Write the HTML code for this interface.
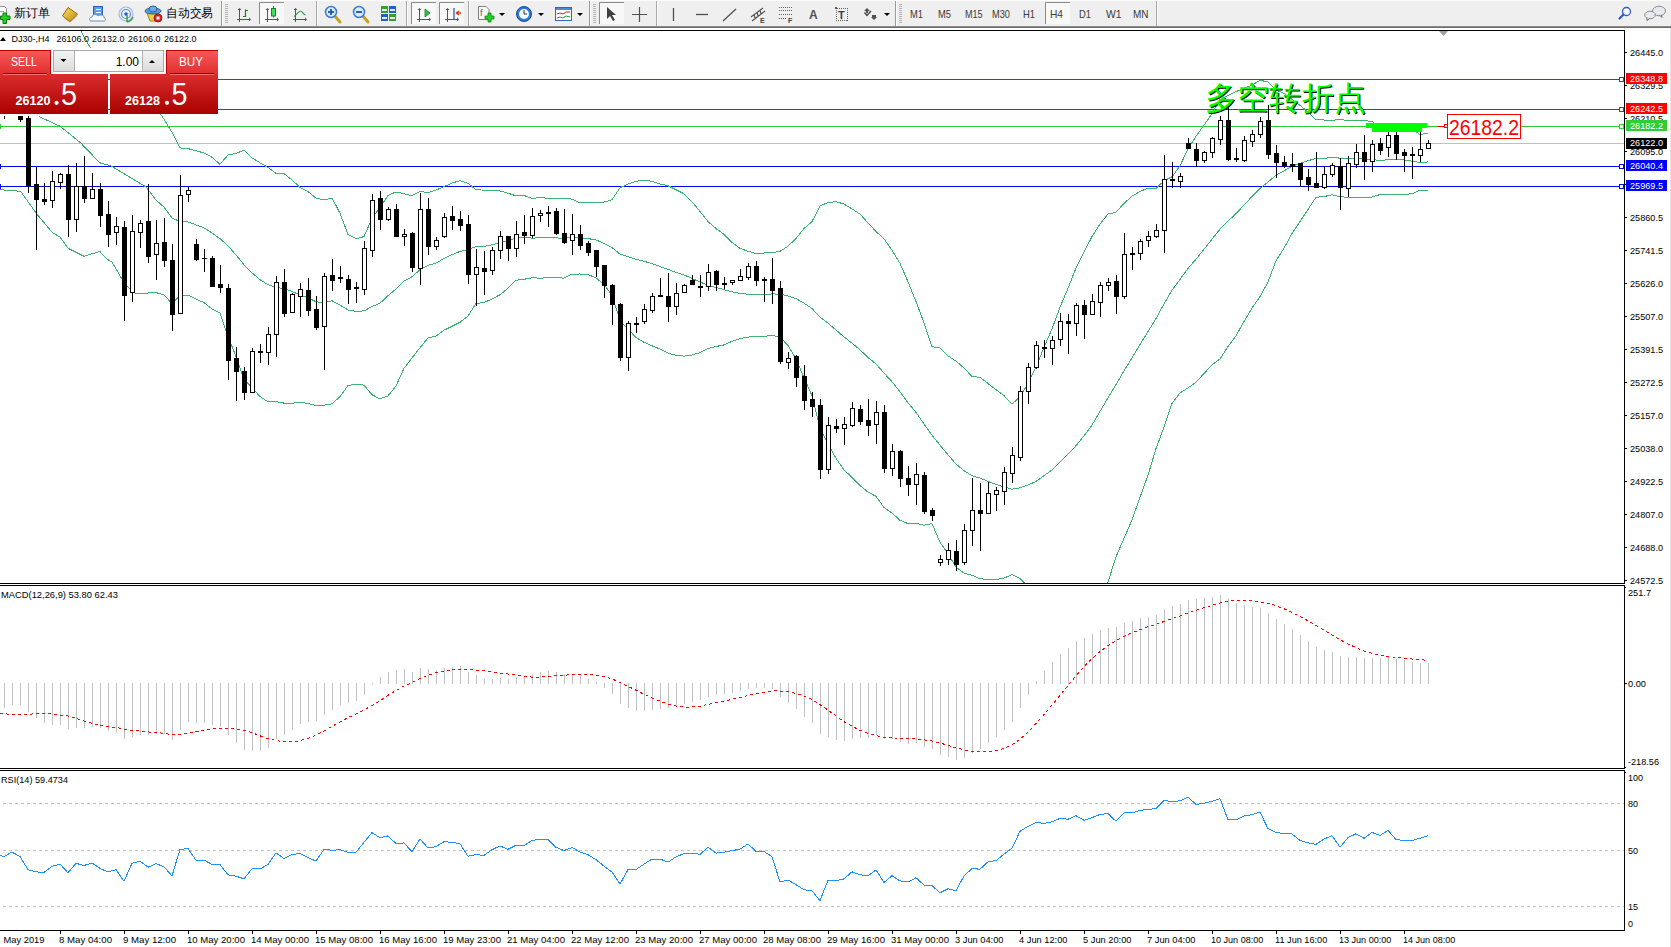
<!DOCTYPE html><html><head><meta charset="utf-8"><style>html,body{margin:0;padding:0;width:1671px;height:947px;overflow:hidden;background:#fff;font-family:"Liberation Sans",sans-serif}</style></head><body><svg width="1671" height="947" viewBox="0 0 1671 947" style="position:absolute;left:0;top:0" font-family="Liberation Sans, sans-serif">
<rect x="0" y="0" width="1671" height="947" fill="#ffffff"/>
<defs><clipPath id="cm"><rect x="0" y="31" width="1624" height="552"/></clipPath><clipPath id="cmacd"><rect x="0" y="586" width="1624" height="182"/></clipPath><clipPath id="crsi"><rect x="0" y="771" width="1624" height="159"/></clipPath></defs>
<g clip-path="url(#cm)">
<rect x="0" y="79" width="1624" height="1" fill="#ff0000"/>
<rect x="0" y="109" width="1624" height="1" fill="#ff0000"/>
<rect x="0" y="126" width="1437" height="1" fill="#32cd32"/>
<rect x="1437" y="126" width="10" height="1" fill="#ff0000"/>
<rect x="1521" y="126" width="103" height="1" fill="#32cd32"/>
<rect x="0" y="143" width="1624" height="1" fill="#c0c0c0"/>
<rect x="0" y="166" width="1624" height="1" fill="#0000ff"/>
<rect x="0" y="186" width="1624" height="1" fill="#0000ff"/>
<path d="M81.0,31.5 L90.5,48.1 L120.0,85.5 L156.0,107.4 L164.0,119.2 L172.0,132.3 L180.0,147.9 L188.0,148.6 L196.0,150.7 L204.0,153.0 L212.0,157.2 L220.0,164.3 L228.0,155.1 L236.0,153.3 L244.0,150.3 L252.0,157.8 L260.0,162.8 L268.0,167.5 L276.0,173.3 L284.0,173.7 L292.0,179.8 L300.0,187.6 L308.0,191.6 L316.0,198.1 L324.0,199.9 L332.0,197.9 L340.0,213.3 L348.0,234.4 L356.0,238.7 L364.0,236.6 L372.0,218.5 L380.0,207.4 L388.0,195.4 L396.0,191.9 L404.0,193.7 L412.0,195.7 L420.0,191.5 L428.0,192.5 L436.0,190.1 L444.0,186.6 L452.0,183.1 L460.0,180.6 L468.0,183.2 L476.0,189.8 L484.0,190.1 L492.0,190.8 L500.0,190.9 L508.0,193.2 L516.0,195.8 L524.0,195.4 L532.0,198.5 L540.0,197.5 L548.0,198.3 L556.0,198.0 L564.0,198.5 L572.0,199.1 L580.0,202.8 L588.0,202.7 L596.0,202.1 L604.0,202.1 L612.0,199.7 L620.0,187.7 L628.0,184.0 L636.0,181.3 L644.0,180.3 L652.0,181.3 L660.0,184.0 L668.0,185.7 L676.0,189.7 L684.0,193.8 L692.0,201.7 L700.0,211.4 L708.0,221.5 L716.0,228.6 L724.0,234.3 L732.0,242.5 L740.0,248.3 L748.0,251.3 L756.0,253.5 L764.0,253.0 L772.0,252.5 L780.0,251.4 L788.0,246.2 L796.0,238.5 L804.0,228.5 L812.0,221.6 L820.0,205.9 L828.0,202.5 L836.0,201.7 L844.0,204.0 L852.0,208.9 L860.0,214.1 L868.0,222.9 L876.0,231.5 L884.0,238.8 L892.0,250.3 L900.0,263.3 L908.0,281.7 L916.0,301.5 L924.0,322.7 L932.0,346.7 L940.0,348.0 L948.0,355.9 L956.0,361.1 L964.0,368.1 L972.0,376.4 L980.0,377.3 L988.0,383.5 L996.0,389.5 L1004.0,395.7 L1012.0,403.9 L1020.0,397.0 L1028.0,383.4 L1036.0,367.0 L1044.0,347.2 L1052.0,329.0 L1060.0,307.2 L1068.0,288.3 L1076.0,268.0 L1084.0,252.2 L1092.0,236.5 L1100.0,224.1 L1108.0,214.0 L1116.0,212.3 L1124.0,203.3 L1132.0,196.2 L1140.0,191.6 L1148.0,188.0 L1156.0,188.6 L1164.0,180.8 L1172.0,176.8 L1180.0,165.9 L1188.0,148.9 L1196.0,136.2 L1204.0,125.2 L1212.0,113.6 L1220.0,99.4 L1228.0,95.4 L1236.0,91.6 L1244.0,88.3 L1252.0,85.1 L1260.0,80.2 L1268.0,82.0 L1276.0,89.9 L1284.0,93.5 L1292.0,99.3 L1300.0,105.3 L1308.0,112.0 L1316.0,119.7 L1324.0,120.0 L1332.0,120.4 L1340.0,119.5 L1348.0,120.5 L1356.0,120.1 L1364.0,120.6 L1372.0,121.5 L1380.0,127.1 L1388.0,124.2 L1396.0,123.8 L1404.0,125.5 L1412.0,128.4 L1420.0,134.6 L1428.0,133.1" fill="none" stroke="#3cb371" stroke-width="1" shape-rendering="crispEdges"/>
<path d="M38.8,116.5 L60.2,126.3 L80.8,143.0 L99.8,162.8 L110.9,165.9 L146.0,186.9 L156.0,200.0 L164.0,207.1 L172.0,217.9 L180.0,221.7 L188.0,221.9 L196.0,224.9 L204.0,227.8 L212.0,233.0 L220.0,238.7 L228.0,245.7 L236.0,255.0 L244.0,264.7 L252.0,272.8 L260.0,279.7 L268.0,284.7 L276.0,287.5 L284.0,288.4 L292.0,291.5 L300.0,294.9 L308.0,297.6 L316.0,301.8 L324.0,302.6 L332.0,300.8 L340.0,305.0 L348.0,310.0 L356.0,311.4 L364.0,310.9 L372.0,306.6 L380.0,303.2 L388.0,295.7 L396.0,288.9 L404.0,281.0 L412.0,276.8 L420.0,269.6 L428.0,265.3 L436.0,263.2 L444.0,258.4 L452.0,254.7 L460.0,251.4 L468.0,249.6 L476.0,246.6 L484.0,246.4 L492.0,244.9 L500.0,242.8 L508.0,240.8 L516.0,238.0 L524.0,237.3 L532.0,238.1 L540.0,237.8 L548.0,238.0 L556.0,237.9 L564.0,238.3 L572.0,236.6 L580.0,238.4 L588.0,238.6 L596.0,239.9 L604.0,243.3 L612.0,247.5 L620.0,254.1 L628.0,256.6 L636.0,259.3 L644.0,261.3 L652.0,263.6 L660.0,266.5 L668.0,269.4 L676.0,272.4 L684.0,274.9 L692.0,278.4 L700.0,282.1 L708.0,285.0 L716.0,287.6 L724.0,289.6 L732.0,291.9 L740.0,293.5 L748.0,294.2 L756.0,294.9 L764.0,294.7 L772.0,293.9 L780.0,294.2 L788.0,295.9 L796.0,298.6 L804.0,303.1 L812.0,308.6 L820.0,317.2 L828.0,323.2 L836.0,330.0 L844.0,336.9 L852.0,343.1 L860.0,349.8 L868.0,357.5 L876.0,363.9 L884.0,373.1 L892.0,381.7 L900.0,391.8 L908.0,402.7 L916.0,412.4 L924.0,424.0 L932.0,435.2 L940.0,445.1 L948.0,454.8 L956.0,464.1 L964.0,470.6 L972.0,475.8 L980.0,478.0 L988.0,481.4 L996.0,484.5 L1004.0,486.9 L1012.0,489.2 L1020.0,487.8 L1028.0,484.9 L1036.0,481.5 L1044.0,475.6 L1052.0,470.0 L1060.0,462.2 L1068.0,454.1 L1076.0,445.7 L1084.0,435.8 L1092.0,425.1 L1100.0,411.4 L1108.0,398.0 L1116.0,384.6 L1124.0,370.9 L1132.0,358.0 L1140.0,344.5 L1148.0,331.6 L1156.0,318.6 L1164.0,303.9 L1172.0,290.2 L1180.0,279.4 L1188.0,268.4 L1196.0,259.2 L1204.0,249.3 L1212.0,239.2 L1220.0,229.2 L1228.0,221.0 L1236.0,213.7 L1244.0,205.0 L1252.0,196.6 L1260.0,188.4 L1268.0,182.0 L1276.0,175.3 L1284.0,170.9 L1292.0,166.4 L1300.0,163.3 L1308.0,160.7 L1316.0,158.5 L1324.0,158.3 L1332.0,157.6 L1340.0,158.1 L1348.0,158.9 L1356.0,158.5 L1364.0,159.0 L1372.0,159.3 L1380.0,160.8 L1388.0,159.6 L1396.0,159.3 L1404.0,160.0 L1412.0,161.1 L1420.0,162.5 L1428.0,161.9" fill="none" stroke="#3cb371" stroke-width="1" shape-rendering="crispEdges"/>
<path d="M0.0,189.7 L20.6,191.3 L36.4,213.5 L52.3,232.5 L60.2,237.2 L68.1,248.3 L84.0,256.2 L99.8,251.5 L107.7,259.5 L112.0,262.1 L125.2,284.5 L135.8,293.8 L156.0,292.5 L164.0,295.1 L172.0,303.4 L180.0,295.4 L188.0,295.1 L196.0,299.1 L204.0,302.6 L212.0,308.9 L220.0,313.1 L228.0,336.3 L236.0,356.6 L244.0,379.1 L252.0,387.8 L260.0,396.5 L268.0,401.9 L276.0,401.7 L284.0,403.1 L292.0,403.3 L300.0,402.2 L308.0,403.6 L316.0,405.5 L324.0,405.2 L332.0,403.8 L340.0,396.7 L348.0,385.6 L356.0,384.1 L364.0,385.2 L372.0,394.7 L380.0,398.9 L388.0,395.9 L396.0,386.0 L404.0,368.3 L412.0,357.9 L420.0,347.8 L428.0,338.0 L436.0,336.2 L444.0,330.2 L452.0,326.3 L460.0,322.3 L468.0,316.0 L476.0,303.4 L484.0,302.6 L492.0,299.0 L500.0,294.7 L508.0,288.3 L516.0,280.2 L524.0,279.3 L532.0,277.8 L540.0,278.1 L548.0,277.8 L556.0,277.7 L564.0,278.1 L572.0,274.1 L580.0,274.0 L588.0,274.6 L596.0,277.8 L604.0,284.5 L612.0,295.3 L620.0,320.6 L628.0,329.1 L636.0,337.4 L644.0,342.3 L652.0,345.8 L660.0,349.0 L668.0,353.2 L676.0,355.2 L684.0,356.1 L692.0,355.0 L700.0,352.7 L708.0,348.5 L716.0,346.5 L724.0,344.9 L732.0,341.3 L740.0,338.6 L748.0,337.1 L756.0,336.4 L764.0,336.4 L772.0,335.4 L780.0,336.9 L788.0,345.6 L796.0,358.7 L804.0,377.8 L812.0,395.6 L820.0,428.6 L828.0,444.0 L836.0,458.3 L844.0,469.9 L852.0,477.4 L860.0,485.6 L868.0,492.1 L876.0,496.3 L884.0,507.5 L892.0,513.1 L900.0,520.3 L908.0,523.6 L916.0,523.3 L924.0,525.2 L932.0,523.7 L940.0,542.3 L948.0,553.7 L956.0,567.2 L964.0,573.1 L972.0,575.3 L980.0,578.8 L988.0,579.4 L996.0,579.5 L1004.0,578.1 L1012.0,574.6 L1020.0,578.6 L1028.0,586.4 L1036.0,596.0 L1044.0,603.9 L1052.0,611.0 L1060.0,617.1 L1068.0,620.0 L1076.0,623.3 L1084.0,619.4 L1092.0,613.8 L1100.0,598.8 L1108.0,582.0 L1116.0,556.9 L1124.0,538.4 L1132.0,519.9 L1140.0,497.3 L1148.0,475.1 L1156.0,448.6 L1164.0,427.0 L1172.0,403.5 L1180.0,392.9 L1188.0,388.0 L1196.0,382.1 L1204.0,373.5 L1212.0,364.9 L1220.0,359.0 L1228.0,346.5 L1236.0,335.7 L1244.0,321.6 L1252.0,308.1 L1260.0,296.6 L1268.0,282.1 L1276.0,260.7 L1284.0,248.2 L1292.0,233.5 L1300.0,221.4 L1308.0,209.4 L1316.0,197.3 L1324.0,196.6 L1332.0,194.7 L1340.0,196.7 L1348.0,197.3 L1356.0,197.0 L1364.0,197.4 L1372.0,197.1 L1380.0,194.5 L1388.0,195.0 L1396.0,194.8 L1404.0,194.6 L1412.0,193.7 L1420.0,190.3 L1428.0,190.8" fill="none" stroke="#3cb371" stroke-width="1" shape-rendering="crispEdges"/>
<g shape-rendering="crispEdges">
<rect x="4" y="116" width="1" height="3" fill="#000"/>
<rect x="12" y="96" width="1" height="17" fill="#000"/>
<rect x="10" y="100" width="5" height="9" fill="#000"/>
<rect x="11" y="101" width="3" height="7" fill="#fff"/>
<rect x="20" y="116" width="1" height="6" fill="#000"/>
<rect x="18" y="116" width="5" height="4" fill="#000"/>
<rect x="28" y="116" width="1" height="77" fill="#000"/>
<rect x="26" y="118" width="5" height="68" fill="#000"/>
<rect x="36" y="167" width="1" height="83" fill="#000"/>
<rect x="34" y="184" width="5" height="16" fill="#000"/>
<rect x="44" y="183" width="1" height="22" fill="#000"/>
<rect x="42" y="199" width="5" height="3" fill="#000"/>
<rect x="52" y="171" width="1" height="37" fill="#000"/>
<rect x="50" y="181" width="5" height="20" fill="#000"/>
<rect x="51" y="182" width="3" height="18" fill="#fff"/>
<rect x="60" y="173" width="1" height="16" fill="#000"/>
<rect x="58" y="174" width="5" height="9" fill="#000"/>
<rect x="59" y="175" width="3" height="7" fill="#fff"/>
<rect x="68" y="165" width="1" height="72" fill="#000"/>
<rect x="66" y="174" width="5" height="46" fill="#000"/>
<rect x="76" y="163" width="1" height="69" fill="#000"/>
<rect x="74" y="186" width="5" height="34" fill="#000"/>
<rect x="75" y="187" width="3" height="32" fill="#fff"/>
<rect x="84" y="156" width="1" height="47" fill="#000"/>
<rect x="82" y="186" width="5" height="13" fill="#000"/>
<rect x="92" y="173" width="1" height="26" fill="#000"/>
<rect x="90" y="189" width="5" height="10" fill="#000"/>
<rect x="91" y="190" width="3" height="8" fill="#fff"/>
<rect x="100" y="183" width="1" height="44" fill="#000"/>
<rect x="98" y="189" width="5" height="27" fill="#000"/>
<rect x="108" y="201" width="1" height="46" fill="#000"/>
<rect x="106" y="214" width="5" height="21" fill="#000"/>
<rect x="116" y="217" width="1" height="28" fill="#000"/>
<rect x="114" y="226" width="5" height="7" fill="#000"/>
<rect x="115" y="227" width="3" height="5" fill="#fff"/>
<rect x="124" y="221" width="1" height="100" fill="#000"/>
<rect x="122" y="227" width="5" height="69" fill="#000"/>
<rect x="132" y="215" width="1" height="87" fill="#000"/>
<rect x="130" y="231" width="5" height="62" fill="#000"/>
<rect x="131" y="232" width="3" height="60" fill="#fff"/>
<rect x="140" y="220" width="1" height="28" fill="#000"/>
<rect x="138" y="223" width="5" height="10" fill="#000"/>
<rect x="139" y="224" width="3" height="8" fill="#fff"/>
<rect x="148" y="184" width="1" height="79" fill="#000"/>
<rect x="146" y="221" width="5" height="36" fill="#000"/>
<rect x="156" y="220" width="1" height="60" fill="#000"/>
<rect x="154" y="243" width="5" height="12" fill="#000"/>
<rect x="155" y="244" width="3" height="10" fill="#fff"/>
<rect x="164" y="218" width="1" height="49" fill="#000"/>
<rect x="162" y="242" width="5" height="19" fill="#000"/>
<rect x="172" y="244" width="1" height="87" fill="#000"/>
<rect x="170" y="260" width="5" height="55" fill="#000"/>
<rect x="180" y="175" width="1" height="139" fill="#000"/>
<rect x="178" y="195" width="5" height="119" fill="#000"/>
<rect x="179" y="196" width="3" height="117" fill="#fff"/>
<rect x="188" y="187" width="1" height="15" fill="#000"/>
<rect x="186" y="190" width="5" height="5" fill="#000"/>
<rect x="187" y="191" width="3" height="3" fill="#fff"/>
<rect x="196" y="239" width="1" height="22" fill="#000"/>
<rect x="194" y="244" width="5" height="16" fill="#000"/>
<rect x="204" y="249" width="1" height="23" fill="#000"/>
<rect x="202" y="258" width="5" height="1" fill="#000"/>
<rect x="212" y="256" width="1" height="31" fill="#000"/>
<rect x="210" y="258" width="5" height="29" fill="#000"/>
<rect x="220" y="265" width="1" height="28" fill="#000"/>
<rect x="218" y="284" width="5" height="4" fill="#000"/>
<rect x="228" y="284" width="1" height="96" fill="#000"/>
<rect x="226" y="288" width="5" height="73" fill="#000"/>
<rect x="236" y="347" width="1" height="54" fill="#000"/>
<rect x="234" y="358" width="5" height="14" fill="#000"/>
<rect x="244" y="367" width="1" height="33" fill="#000"/>
<rect x="242" y="371" width="5" height="22" fill="#000"/>
<rect x="252" y="348" width="1" height="45" fill="#000"/>
<rect x="250" y="351" width="5" height="42" fill="#000"/>
<rect x="251" y="352" width="3" height="40" fill="#fff"/>
<rect x="260" y="344" width="1" height="19" fill="#000"/>
<rect x="258" y="351" width="5" height="2" fill="#000"/>
<rect x="268" y="327" width="1" height="38" fill="#000"/>
<rect x="266" y="334" width="5" height="19" fill="#000"/>
<rect x="267" y="335" width="3" height="17" fill="#fff"/>
<rect x="276" y="276" width="1" height="81" fill="#000"/>
<rect x="274" y="282" width="5" height="53" fill="#000"/>
<rect x="275" y="283" width="3" height="51" fill="#fff"/>
<rect x="284" y="269" width="1" height="48" fill="#000"/>
<rect x="282" y="282" width="5" height="32" fill="#000"/>
<rect x="292" y="293" width="1" height="20" fill="#000"/>
<rect x="290" y="294" width="5" height="19" fill="#000"/>
<rect x="291" y="295" width="3" height="17" fill="#fff"/>
<rect x="300" y="283" width="1" height="34" fill="#000"/>
<rect x="298" y="289" width="5" height="8" fill="#000"/>
<rect x="299" y="290" width="3" height="6" fill="#fff"/>
<rect x="308" y="278" width="1" height="38" fill="#000"/>
<rect x="306" y="290" width="5" height="21" fill="#000"/>
<rect x="316" y="296" width="1" height="34" fill="#000"/>
<rect x="314" y="309" width="5" height="19" fill="#000"/>
<rect x="324" y="273" width="1" height="97" fill="#000"/>
<rect x="322" y="276" width="5" height="51" fill="#000"/>
<rect x="323" y="277" width="3" height="49" fill="#fff"/>
<rect x="332" y="259" width="1" height="32" fill="#000"/>
<rect x="330" y="275" width="5" height="6" fill="#000"/>
<rect x="340" y="266" width="1" height="17" fill="#000"/>
<rect x="338" y="277" width="5" height="2" fill="#000"/>
<rect x="348" y="275" width="1" height="29" fill="#000"/>
<rect x="346" y="279" width="5" height="11" fill="#000"/>
<rect x="356" y="282" width="1" height="21" fill="#000"/>
<rect x="354" y="287" width="5" height="2" fill="#000"/>
<rect x="364" y="241" width="1" height="54" fill="#000"/>
<rect x="362" y="248" width="5" height="42" fill="#000"/>
<rect x="363" y="249" width="3" height="40" fill="#fff"/>
<rect x="372" y="194" width="1" height="63" fill="#000"/>
<rect x="370" y="200" width="5" height="51" fill="#000"/>
<rect x="371" y="201" width="3" height="49" fill="#fff"/>
<rect x="380" y="191" width="1" height="39" fill="#000"/>
<rect x="378" y="198" width="5" height="22" fill="#000"/>
<rect x="388" y="207" width="1" height="14" fill="#000"/>
<rect x="386" y="209" width="5" height="11" fill="#000"/>
<rect x="387" y="210" width="3" height="9" fill="#fff"/>
<rect x="396" y="204" width="1" height="33" fill="#000"/>
<rect x="394" y="209" width="5" height="28" fill="#000"/>
<rect x="404" y="229" width="1" height="17" fill="#000"/>
<rect x="402" y="234" width="5" height="3" fill="#000"/>
<rect x="403" y="235" width="3" height="1" fill="#fff"/>
<rect x="412" y="232" width="1" height="40" fill="#000"/>
<rect x="410" y="233" width="5" height="35" fill="#000"/>
<rect x="420" y="193" width="1" height="92" fill="#000"/>
<rect x="418" y="209" width="5" height="60" fill="#000"/>
<rect x="419" y="210" width="3" height="58" fill="#fff"/>
<rect x="428" y="198" width="1" height="57" fill="#000"/>
<rect x="426" y="209" width="5" height="38" fill="#000"/>
<rect x="436" y="237" width="1" height="13" fill="#000"/>
<rect x="434" y="240" width="5" height="7" fill="#000"/>
<rect x="435" y="241" width="3" height="5" fill="#fff"/>
<rect x="444" y="213" width="1" height="25" fill="#000"/>
<rect x="442" y="217" width="5" height="20" fill="#000"/>
<rect x="443" y="218" width="3" height="18" fill="#fff"/>
<rect x="452" y="206" width="1" height="24" fill="#000"/>
<rect x="450" y="216" width="5" height="5" fill="#000"/>
<rect x="460" y="211" width="1" height="20" fill="#000"/>
<rect x="458" y="219" width="5" height="7" fill="#000"/>
<rect x="468" y="215" width="1" height="69" fill="#000"/>
<rect x="466" y="224" width="5" height="51" fill="#000"/>
<rect x="476" y="249" width="1" height="57" fill="#000"/>
<rect x="474" y="267" width="5" height="8" fill="#000"/>
<rect x="475" y="268" width="3" height="6" fill="#fff"/>
<rect x="484" y="251" width="1" height="44" fill="#000"/>
<rect x="482" y="268" width="5" height="4" fill="#000"/>
<rect x="492" y="247" width="1" height="28" fill="#000"/>
<rect x="490" y="250" width="5" height="21" fill="#000"/>
<rect x="491" y="251" width="3" height="19" fill="#fff"/>
<rect x="500" y="231" width="1" height="28" fill="#000"/>
<rect x="498" y="236" width="5" height="15" fill="#000"/>
<rect x="499" y="237" width="3" height="13" fill="#fff"/>
<rect x="508" y="236" width="1" height="25" fill="#000"/>
<rect x="506" y="236" width="5" height="13" fill="#000"/>
<rect x="516" y="221" width="1" height="36" fill="#000"/>
<rect x="514" y="234" width="5" height="15" fill="#000"/>
<rect x="515" y="235" width="3" height="13" fill="#fff"/>
<rect x="524" y="215" width="1" height="29" fill="#000"/>
<rect x="522" y="232" width="5" height="4" fill="#000"/>
<rect x="532" y="208" width="1" height="30" fill="#000"/>
<rect x="530" y="216" width="5" height="20" fill="#000"/>
<rect x="531" y="217" width="3" height="18" fill="#fff"/>
<rect x="540" y="210" width="1" height="12" fill="#000"/>
<rect x="538" y="213" width="5" height="3" fill="#000"/>
<rect x="539" y="214" width="3" height="1" fill="#fff"/>
<rect x="548" y="206" width="1" height="21" fill="#000"/>
<rect x="546" y="212" width="5" height="2" fill="#000"/>
<rect x="556" y="208" width="1" height="27" fill="#000"/>
<rect x="554" y="211" width="5" height="23" fill="#000"/>
<rect x="564" y="209" width="1" height="35" fill="#000"/>
<rect x="562" y="233" width="5" height="10" fill="#000"/>
<rect x="572" y="214" width="1" height="41" fill="#000"/>
<rect x="570" y="234" width="5" height="7" fill="#000"/>
<rect x="571" y="235" width="3" height="5" fill="#fff"/>
<rect x="580" y="225" width="1" height="25" fill="#000"/>
<rect x="578" y="234" width="5" height="12" fill="#000"/>
<rect x="588" y="241" width="1" height="15" fill="#000"/>
<rect x="586" y="243" width="5" height="10" fill="#000"/>
<rect x="596" y="250" width="1" height="27" fill="#000"/>
<rect x="594" y="250" width="5" height="17" fill="#000"/>
<rect x="604" y="265" width="1" height="33" fill="#000"/>
<rect x="602" y="265" width="5" height="21" fill="#000"/>
<rect x="612" y="284" width="1" height="41" fill="#000"/>
<rect x="610" y="285" width="5" height="20" fill="#000"/>
<rect x="620" y="303" width="1" height="58" fill="#000"/>
<rect x="618" y="304" width="5" height="54" fill="#000"/>
<rect x="628" y="321" width="1" height="50" fill="#000"/>
<rect x="626" y="323" width="5" height="35" fill="#000"/>
<rect x="627" y="324" width="3" height="33" fill="#fff"/>
<rect x="636" y="317" width="1" height="16" fill="#000"/>
<rect x="634" y="323" width="5" height="2" fill="#000"/>
<rect x="644" y="304" width="1" height="20" fill="#000"/>
<rect x="642" y="309" width="5" height="13" fill="#000"/>
<rect x="643" y="310" width="3" height="11" fill="#fff"/>
<rect x="652" y="293" width="1" height="20" fill="#000"/>
<rect x="650" y="296" width="5" height="15" fill="#000"/>
<rect x="651" y="297" width="3" height="13" fill="#fff"/>
<rect x="660" y="278" width="1" height="19" fill="#000"/>
<rect x="658" y="295" width="5" height="2" fill="#000"/>
<rect x="668" y="273" width="1" height="49" fill="#000"/>
<rect x="666" y="296" width="5" height="11" fill="#000"/>
<rect x="676" y="283" width="1" height="32" fill="#000"/>
<rect x="674" y="293" width="5" height="14" fill="#000"/>
<rect x="675" y="294" width="3" height="12" fill="#fff"/>
<rect x="684" y="284" width="1" height="9" fill="#000"/>
<rect x="682" y="285" width="5" height="8" fill="#000"/>
<rect x="683" y="286" width="3" height="6" fill="#fff"/>
<rect x="692" y="275" width="1" height="10" fill="#000"/>
<rect x="690" y="280" width="5" height="5" fill="#000"/>
<rect x="700" y="275" width="1" height="22" fill="#000"/>
<rect x="698" y="286" width="5" height="2" fill="#000"/>
<rect x="708" y="264" width="1" height="27" fill="#000"/>
<rect x="706" y="272" width="5" height="15" fill="#000"/>
<rect x="707" y="273" width="3" height="13" fill="#fff"/>
<rect x="716" y="270" width="1" height="21" fill="#000"/>
<rect x="714" y="271" width="5" height="14" fill="#000"/>
<rect x="724" y="277" width="1" height="12" fill="#000"/>
<rect x="722" y="283" width="5" height="2" fill="#000"/>
<rect x="732" y="280" width="1" height="5" fill="#000"/>
<rect x="730" y="280" width="5" height="3" fill="#000"/>
<rect x="731" y="281" width="3" height="1" fill="#fff"/>
<rect x="740" y="269" width="1" height="12" fill="#000"/>
<rect x="738" y="276" width="5" height="5" fill="#000"/>
<rect x="739" y="277" width="3" height="3" fill="#fff"/>
<rect x="748" y="263" width="1" height="17" fill="#000"/>
<rect x="746" y="266" width="5" height="12" fill="#000"/>
<rect x="747" y="267" width="3" height="10" fill="#fff"/>
<rect x="756" y="261" width="1" height="25" fill="#000"/>
<rect x="754" y="266" width="5" height="15" fill="#000"/>
<rect x="764" y="277" width="1" height="25" fill="#000"/>
<rect x="762" y="279" width="5" height="2" fill="#000"/>
<rect x="772" y="258" width="1" height="46" fill="#000"/>
<rect x="770" y="279" width="5" height="12" fill="#000"/>
<rect x="780" y="281" width="1" height="83" fill="#000"/>
<rect x="778" y="288" width="5" height="74" fill="#000"/>
<rect x="788" y="352" width="1" height="17" fill="#000"/>
<rect x="786" y="358" width="5" height="5" fill="#000"/>
<rect x="787" y="359" width="3" height="3" fill="#fff"/>
<rect x="796" y="355" width="1" height="32" fill="#000"/>
<rect x="794" y="356" width="5" height="22" fill="#000"/>
<rect x="804" y="365" width="1" height="45" fill="#000"/>
<rect x="802" y="376" width="5" height="25" fill="#000"/>
<rect x="812" y="392" width="1" height="25" fill="#000"/>
<rect x="810" y="399" width="5" height="8" fill="#000"/>
<rect x="820" y="399" width="1" height="80" fill="#000"/>
<rect x="818" y="405" width="5" height="65" fill="#000"/>
<rect x="828" y="417" width="1" height="57" fill="#000"/>
<rect x="826" y="425" width="5" height="45" fill="#000"/>
<rect x="827" y="426" width="3" height="43" fill="#fff"/>
<rect x="836" y="419" width="1" height="14" fill="#000"/>
<rect x="834" y="426" width="5" height="3" fill="#000"/>
<rect x="844" y="417" width="1" height="28" fill="#000"/>
<rect x="842" y="424" width="5" height="5" fill="#000"/>
<rect x="843" y="425" width="3" height="3" fill="#fff"/>
<rect x="852" y="402" width="1" height="25" fill="#000"/>
<rect x="850" y="408" width="5" height="18" fill="#000"/>
<rect x="851" y="409" width="3" height="16" fill="#fff"/>
<rect x="860" y="405" width="1" height="20" fill="#000"/>
<rect x="858" y="409" width="5" height="13" fill="#000"/>
<rect x="868" y="399" width="1" height="37" fill="#000"/>
<rect x="866" y="420" width="5" height="6" fill="#000"/>
<rect x="876" y="401" width="1" height="43" fill="#000"/>
<rect x="874" y="412" width="5" height="13" fill="#000"/>
<rect x="875" y="413" width="3" height="11" fill="#fff"/>
<rect x="884" y="405" width="1" height="68" fill="#000"/>
<rect x="882" y="412" width="5" height="57" fill="#000"/>
<rect x="892" y="444" width="1" height="32" fill="#000"/>
<rect x="890" y="451" width="5" height="18" fill="#000"/>
<rect x="891" y="452" width="3" height="16" fill="#fff"/>
<rect x="900" y="450" width="1" height="37" fill="#000"/>
<rect x="898" y="451" width="5" height="28" fill="#000"/>
<rect x="908" y="466" width="1" height="30" fill="#000"/>
<rect x="906" y="478" width="5" height="7" fill="#000"/>
<rect x="916" y="463" width="1" height="42" fill="#000"/>
<rect x="914" y="474" width="5" height="11" fill="#000"/>
<rect x="915" y="475" width="3" height="9" fill="#fff"/>
<rect x="924" y="472" width="1" height="42" fill="#000"/>
<rect x="922" y="475" width="5" height="37" fill="#000"/>
<rect x="932" y="508" width="1" height="13" fill="#000"/>
<rect x="930" y="510" width="5" height="6" fill="#000"/>
<rect x="940" y="555" width="1" height="11" fill="#000"/>
<rect x="938" y="559" width="5" height="4" fill="#000"/>
<rect x="939" y="560" width="3" height="2" fill="#fff"/>
<rect x="948" y="543" width="1" height="22" fill="#000"/>
<rect x="946" y="550" width="5" height="10" fill="#000"/>
<rect x="947" y="551" width="3" height="8" fill="#fff"/>
<rect x="956" y="540" width="1" height="31" fill="#000"/>
<rect x="954" y="551" width="5" height="14" fill="#000"/>
<rect x="964" y="524" width="1" height="41" fill="#000"/>
<rect x="962" y="530" width="5" height="33" fill="#000"/>
<rect x="963" y="531" width="3" height="31" fill="#fff"/>
<rect x="972" y="478" width="1" height="68" fill="#000"/>
<rect x="970" y="510" width="5" height="21" fill="#000"/>
<rect x="971" y="511" width="3" height="19" fill="#fff"/>
<rect x="980" y="483" width="1" height="68" fill="#000"/>
<rect x="978" y="510" width="5" height="4" fill="#000"/>
<rect x="988" y="482" width="1" height="32" fill="#000"/>
<rect x="986" y="493" width="5" height="21" fill="#000"/>
<rect x="987" y="494" width="3" height="19" fill="#fff"/>
<rect x="996" y="487" width="1" height="24" fill="#000"/>
<rect x="994" y="490" width="5" height="5" fill="#000"/>
<rect x="995" y="491" width="3" height="3" fill="#fff"/>
<rect x="1004" y="467" width="1" height="38" fill="#000"/>
<rect x="1002" y="472" width="5" height="20" fill="#000"/>
<rect x="1003" y="473" width="3" height="18" fill="#fff"/>
<rect x="1012" y="447" width="1" height="36" fill="#000"/>
<rect x="1010" y="455" width="5" height="19" fill="#000"/>
<rect x="1011" y="456" width="3" height="17" fill="#fff"/>
<rect x="1020" y="386" width="1" height="75" fill="#000"/>
<rect x="1018" y="391" width="5" height="67" fill="#000"/>
<rect x="1019" y="392" width="3" height="65" fill="#fff"/>
<rect x="1028" y="363" width="1" height="41" fill="#000"/>
<rect x="1026" y="367" width="5" height="25" fill="#000"/>
<rect x="1027" y="368" width="3" height="23" fill="#fff"/>
<rect x="1036" y="341" width="1" height="28" fill="#000"/>
<rect x="1034" y="345" width="5" height="23" fill="#000"/>
<rect x="1035" y="346" width="3" height="21" fill="#fff"/>
<rect x="1044" y="340" width="1" height="18" fill="#000"/>
<rect x="1042" y="347" width="5" height="2" fill="#000"/>
<rect x="1052" y="336" width="1" height="29" fill="#000"/>
<rect x="1050" y="340" width="5" height="9" fill="#000"/>
<rect x="1051" y="341" width="3" height="7" fill="#fff"/>
<rect x="1060" y="313" width="1" height="33" fill="#000"/>
<rect x="1058" y="321" width="5" height="19" fill="#000"/>
<rect x="1059" y="322" width="3" height="17" fill="#fff"/>
<rect x="1068" y="314" width="1" height="40" fill="#000"/>
<rect x="1066" y="321" width="5" height="3" fill="#000"/>
<rect x="1076" y="303" width="1" height="33" fill="#000"/>
<rect x="1074" y="305" width="5" height="19" fill="#000"/>
<rect x="1075" y="306" width="3" height="17" fill="#fff"/>
<rect x="1084" y="300" width="1" height="39" fill="#000"/>
<rect x="1082" y="305" width="5" height="10" fill="#000"/>
<rect x="1092" y="294" width="1" height="21" fill="#000"/>
<rect x="1090" y="301" width="5" height="14" fill="#000"/>
<rect x="1091" y="302" width="3" height="12" fill="#fff"/>
<rect x="1100" y="282" width="1" height="35" fill="#000"/>
<rect x="1098" y="285" width="5" height="18" fill="#000"/>
<rect x="1099" y="286" width="3" height="16" fill="#fff"/>
<rect x="1108" y="278" width="1" height="13" fill="#000"/>
<rect x="1106" y="282" width="5" height="4" fill="#000"/>
<rect x="1107" y="283" width="3" height="2" fill="#fff"/>
<rect x="1116" y="275" width="1" height="39" fill="#000"/>
<rect x="1114" y="281" width="5" height="16" fill="#000"/>
<rect x="1124" y="233" width="1" height="66" fill="#000"/>
<rect x="1122" y="254" width="5" height="43" fill="#000"/>
<rect x="1123" y="255" width="3" height="41" fill="#fff"/>
<rect x="1132" y="247" width="1" height="23" fill="#000"/>
<rect x="1130" y="253" width="5" height="2" fill="#000"/>
<rect x="1140" y="239" width="1" height="21" fill="#000"/>
<rect x="1138" y="241" width="5" height="13" fill="#000"/>
<rect x="1139" y="242" width="3" height="11" fill="#fff"/>
<rect x="1148" y="231" width="1" height="16" fill="#000"/>
<rect x="1146" y="236" width="5" height="5" fill="#000"/>
<rect x="1147" y="237" width="3" height="3" fill="#fff"/>
<rect x="1156" y="224" width="1" height="14" fill="#000"/>
<rect x="1154" y="230" width="5" height="7" fill="#000"/>
<rect x="1155" y="231" width="3" height="5" fill="#fff"/>
<rect x="1164" y="155" width="1" height="98" fill="#000"/>
<rect x="1162" y="179" width="5" height="52" fill="#000"/>
<rect x="1163" y="180" width="3" height="50" fill="#fff"/>
<rect x="1172" y="162" width="1" height="26" fill="#000"/>
<rect x="1170" y="179" width="5" height="2" fill="#000"/>
<rect x="1180" y="173" width="1" height="15" fill="#000"/>
<rect x="1178" y="176" width="5" height="6" fill="#000"/>
<rect x="1179" y="177" width="3" height="4" fill="#fff"/>
<rect x="1188" y="138" width="1" height="11" fill="#000"/>
<rect x="1186" y="143" width="5" height="6" fill="#000"/>
<rect x="1196" y="143" width="1" height="24" fill="#000"/>
<rect x="1194" y="149" width="5" height="12" fill="#000"/>
<rect x="1204" y="151" width="1" height="12" fill="#000"/>
<rect x="1202" y="152" width="5" height="9" fill="#000"/>
<rect x="1203" y="153" width="3" height="7" fill="#fff"/>
<rect x="1212" y="137" width="1" height="21" fill="#000"/>
<rect x="1210" y="138" width="5" height="15" fill="#000"/>
<rect x="1211" y="139" width="3" height="13" fill="#fff"/>
<rect x="1220" y="116" width="1" height="29" fill="#000"/>
<rect x="1218" y="120" width="5" height="20" fill="#000"/>
<rect x="1219" y="121" width="3" height="18" fill="#fff"/>
<rect x="1228" y="105" width="1" height="56" fill="#000"/>
<rect x="1226" y="120" width="5" height="40" fill="#000"/>
<rect x="1236" y="148" width="1" height="14" fill="#000"/>
<rect x="1234" y="158" width="5" height="2" fill="#000"/>
<rect x="1244" y="136" width="1" height="26" fill="#000"/>
<rect x="1242" y="140" width="5" height="21" fill="#000"/>
<rect x="1243" y="141" width="3" height="19" fill="#fff"/>
<rect x="1252" y="130" width="1" height="17" fill="#000"/>
<rect x="1250" y="134" width="5" height="8" fill="#000"/>
<rect x="1251" y="135" width="3" height="6" fill="#fff"/>
<rect x="1260" y="117" width="1" height="21" fill="#000"/>
<rect x="1258" y="121" width="5" height="14" fill="#000"/>
<rect x="1259" y="122" width="3" height="12" fill="#fff"/>
<rect x="1268" y="105" width="1" height="54" fill="#000"/>
<rect x="1266" y="120" width="5" height="35" fill="#000"/>
<rect x="1276" y="145" width="1" height="33" fill="#000"/>
<rect x="1274" y="153" width="5" height="10" fill="#000"/>
<rect x="1284" y="156" width="1" height="12" fill="#000"/>
<rect x="1282" y="162" width="5" height="4" fill="#000"/>
<rect x="1292" y="153" width="1" height="19" fill="#000"/>
<rect x="1290" y="164" width="5" height="3" fill="#000"/>
<rect x="1300" y="163" width="1" height="24" fill="#000"/>
<rect x="1298" y="163" width="5" height="17" fill="#000"/>
<rect x="1308" y="169" width="1" height="22" fill="#000"/>
<rect x="1306" y="177" width="5" height="8" fill="#000"/>
<rect x="1316" y="152" width="1" height="36" fill="#000"/>
<rect x="1314" y="183" width="5" height="5" fill="#000"/>
<rect x="1324" y="166" width="1" height="23" fill="#000"/>
<rect x="1322" y="174" width="5" height="14" fill="#000"/>
<rect x="1323" y="175" width="3" height="12" fill="#fff"/>
<rect x="1332" y="163" width="1" height="14" fill="#000"/>
<rect x="1330" y="165" width="5" height="10" fill="#000"/>
<rect x="1331" y="166" width="3" height="8" fill="#fff"/>
<rect x="1340" y="158" width="1" height="52" fill="#000"/>
<rect x="1338" y="166" width="5" height="22" fill="#000"/>
<rect x="1348" y="156" width="1" height="41" fill="#000"/>
<rect x="1346" y="163" width="5" height="26" fill="#000"/>
<rect x="1347" y="164" width="3" height="24" fill="#fff"/>
<rect x="1356" y="144" width="1" height="24" fill="#000"/>
<rect x="1354" y="152" width="5" height="13" fill="#000"/>
<rect x="1355" y="153" width="3" height="11" fill="#fff"/>
<rect x="1364" y="135" width="1" height="45" fill="#000"/>
<rect x="1362" y="152" width="5" height="10" fill="#000"/>
<rect x="1372" y="140" width="1" height="32" fill="#000"/>
<rect x="1370" y="144" width="5" height="18" fill="#000"/>
<rect x="1371" y="145" width="3" height="16" fill="#fff"/>
<rect x="1380" y="138" width="1" height="17" fill="#000"/>
<rect x="1378" y="143" width="5" height="8" fill="#000"/>
<rect x="1388" y="132" width="1" height="25" fill="#000"/>
<rect x="1386" y="135" width="5" height="13" fill="#000"/>
<rect x="1387" y="136" width="3" height="11" fill="#fff"/>
<rect x="1396" y="132" width="1" height="28" fill="#000"/>
<rect x="1394" y="135" width="5" height="19" fill="#000"/>
<rect x="1404" y="149" width="1" height="23" fill="#000"/>
<rect x="1402" y="152" width="5" height="4" fill="#000"/>
<rect x="1412" y="147" width="1" height="32" fill="#000"/>
<rect x="1410" y="154" width="5" height="2" fill="#000"/>
<rect x="1420" y="132" width="1" height="30" fill="#000"/>
<rect x="1418" y="149" width="5" height="7" fill="#000"/>
<rect x="1419" y="150" width="3" height="5" fill="#fff"/>
<rect x="1428" y="140" width="1" height="9" fill="#000"/>
<rect x="1426" y="143" width="5" height="6" fill="#000"/>
<rect x="1427" y="144" width="3" height="4" fill="#fff"/>
</g>
</g>
<rect x="1619.5" y="77.5" width="4" height="4" fill="#fff" stroke="#ff0000" stroke-width="1"/>
<rect x="0" y="77" width="1" height="5" fill="#ff0000"/>
<rect x="1619.5" y="107.5" width="4" height="4" fill="#fff" stroke="#ff0000" stroke-width="1"/>
<rect x="0" y="107" width="1" height="5" fill="#ff0000"/>
<rect x="1619.5" y="124.5" width="4" height="4" fill="#fff" stroke="#32cd32" stroke-width="1"/>
<rect x="0" y="124" width="1" height="5" fill="#32cd32"/>
<rect x="1619.5" y="164.5" width="4" height="4" fill="#fff" stroke="#0000ff" stroke-width="1"/>
<rect x="0" y="164" width="1" height="5" fill="#0000ff"/>
<rect x="1619.5" y="184.5" width="4" height="4" fill="#fff" stroke="#0000ff" stroke-width="1"/>
<rect x="0" y="184" width="1" height="5" fill="#0000ff"/>
<path d="M1366,123 H1427 V128 H1422 V132 H1372 V128 H1366 Z" fill="#00ff00"/>
<rect x="1444.5" y="124.5" width="3" height="3" fill="#fff" stroke="#ff0000" stroke-width="1"/>
<rect x="1447.5" y="114.5" width="73" height="24" fill="#fff" stroke="#ff0000" stroke-width="1"/>
<text x="1449" y="135" font-size="22" fill="#ff0000" textLength="70" lengthAdjust="spacingAndGlyphs">26182.2</text>
<text x="1206" y="110" font-size="32" font-weight="500" fill="#000" textLength="161" lengthAdjust="spacingAndGlyphs">多空转折点</text>
<text x="1205" y="109" font-size="32" font-weight="500" fill="#00ff00" textLength="161" lengthAdjust="spacingAndGlyphs">多空转折点</text>
<path d="M1439,31 H1448 L1443.5,36 Z" fill="#a0a0a0"/>
<g clip-path="url(#cmacd)" shape-rendering="crispEdges">
<rect x="4" y="683" width="1" height="25" fill="#c0c0c0"/>
<rect x="12" y="683" width="1" height="22" fill="#c0c0c0"/>
<rect x="20" y="683" width="1" height="22" fill="#c0c0c0"/>
<rect x="28" y="683" width="1" height="29" fill="#c0c0c0"/>
<rect x="36" y="683" width="1" height="35" fill="#c0c0c0"/>
<rect x="44" y="683" width="1" height="40" fill="#c0c0c0"/>
<rect x="52" y="683" width="1" height="42" fill="#c0c0c0"/>
<rect x="60" y="683" width="1" height="42" fill="#c0c0c0"/>
<rect x="68" y="683" width="1" height="46" fill="#c0c0c0"/>
<rect x="76" y="683" width="1" height="45" fill="#c0c0c0"/>
<rect x="84" y="683" width="1" height="45" fill="#c0c0c0"/>
<rect x="92" y="683" width="1" height="44" fill="#c0c0c0"/>
<rect x="100" y="683" width="1" height="45" fill="#c0c0c0"/>
<rect x="108" y="683" width="1" height="48" fill="#c0c0c0"/>
<rect x="116" y="683" width="1" height="49" fill="#c0c0c0"/>
<rect x="124" y="683" width="1" height="56" fill="#c0c0c0"/>
<rect x="132" y="683" width="1" height="54" fill="#c0c0c0"/>
<rect x="140" y="683" width="1" height="52" fill="#c0c0c0"/>
<rect x="148" y="683" width="1" height="52" fill="#c0c0c0"/>
<rect x="156" y="683" width="1" height="51" fill="#c0c0c0"/>
<rect x="164" y="683" width="1" height="51" fill="#c0c0c0"/>
<rect x="172" y="683" width="1" height="57" fill="#c0c0c0"/>
<rect x="180" y="683" width="1" height="47" fill="#c0c0c0"/>
<rect x="188" y="683" width="1" height="39" fill="#c0c0c0"/>
<rect x="196" y="683" width="1" height="40" fill="#c0c0c0"/>
<rect x="204" y="683" width="1" height="40" fill="#c0c0c0"/>
<rect x="212" y="683" width="1" height="42" fill="#c0c0c0"/>
<rect x="220" y="683" width="1" height="44" fill="#c0c0c0"/>
<rect x="228" y="683" width="1" height="52" fill="#c0c0c0"/>
<rect x="236" y="683" width="1" height="60" fill="#c0c0c0"/>
<rect x="244" y="683" width="1" height="67" fill="#c0c0c0"/>
<rect x="252" y="683" width="1" height="68" fill="#c0c0c0"/>
<rect x="260" y="683" width="1" height="68" fill="#c0c0c0"/>
<rect x="268" y="683" width="1" height="65" fill="#c0c0c0"/>
<rect x="276" y="683" width="1" height="56" fill="#c0c0c0"/>
<rect x="284" y="683" width="1" height="52" fill="#c0c0c0"/>
<rect x="292" y="683" width="1" height="47" fill="#c0c0c0"/>
<rect x="300" y="683" width="1" height="41" fill="#c0c0c0"/>
<rect x="308" y="683" width="1" height="39" fill="#c0c0c0"/>
<rect x="316" y="683" width="1" height="38" fill="#c0c0c0"/>
<rect x="324" y="683" width="1" height="32" fill="#c0c0c0"/>
<rect x="332" y="683" width="1" height="27" fill="#c0c0c0"/>
<rect x="340" y="683" width="1" height="22" fill="#c0c0c0"/>
<rect x="348" y="683" width="1" height="20" fill="#c0c0c0"/>
<rect x="356" y="683" width="1" height="18" fill="#c0c0c0"/>
<rect x="364" y="683" width="1" height="12" fill="#c0c0c0"/>
<rect x="372" y="683" width="1" height="1" fill="#c0c0c0"/>
<rect x="380" y="677" width="1" height="7" fill="#c0c0c0"/>
<rect x="388" y="672" width="1" height="12" fill="#c0c0c0"/>
<rect x="396" y="670" width="1" height="14" fill="#c0c0c0"/>
<rect x="404" y="669" width="1" height="15" fill="#c0c0c0"/>
<rect x="412" y="672" width="1" height="12" fill="#c0c0c0"/>
<rect x="420" y="668" width="1" height="16" fill="#c0c0c0"/>
<rect x="428" y="669" width="1" height="15" fill="#c0c0c0"/>
<rect x="436" y="670" width="1" height="14" fill="#c0c0c0"/>
<rect x="444" y="668" width="1" height="16" fill="#c0c0c0"/>
<rect x="452" y="667" width="1" height="17" fill="#c0c0c0"/>
<rect x="460" y="666" width="1" height="18" fill="#c0c0c0"/>
<rect x="468" y="672" width="1" height="12" fill="#c0c0c0"/>
<rect x="476" y="675" width="1" height="9" fill="#c0c0c0"/>
<rect x="484" y="679" width="1" height="5" fill="#c0c0c0"/>
<rect x="492" y="679" width="1" height="5" fill="#c0c0c0"/>
<rect x="500" y="678" width="1" height="6" fill="#c0c0c0"/>
<rect x="508" y="679" width="1" height="5" fill="#c0c0c0"/>
<rect x="516" y="677" width="1" height="7" fill="#c0c0c0"/>
<rect x="524" y="677" width="1" height="7" fill="#c0c0c0"/>
<rect x="532" y="674" width="1" height="10" fill="#c0c0c0"/>
<rect x="540" y="672" width="1" height="12" fill="#c0c0c0"/>
<rect x="548" y="671" width="1" height="13" fill="#c0c0c0"/>
<rect x="556" y="672" width="1" height="12" fill="#c0c0c0"/>
<rect x="564" y="674" width="1" height="10" fill="#c0c0c0"/>
<rect x="572" y="674" width="1" height="10" fill="#c0c0c0"/>
<rect x="580" y="676" width="1" height="8" fill="#c0c0c0"/>
<rect x="588" y="679" width="1" height="5" fill="#c0c0c0"/>
<rect x="596" y="682" width="1" height="2" fill="#c0c0c0"/>
<rect x="604" y="683" width="1" height="5" fill="#c0c0c0"/>
<rect x="612" y="683" width="1" height="11" fill="#c0c0c0"/>
<rect x="620" y="683" width="1" height="21" fill="#c0c0c0"/>
<rect x="628" y="683" width="1" height="25" fill="#c0c0c0"/>
<rect x="636" y="683" width="1" height="28" fill="#c0c0c0"/>
<rect x="644" y="683" width="1" height="28" fill="#c0c0c0"/>
<rect x="652" y="683" width="1" height="27" fill="#c0c0c0"/>
<rect x="660" y="683" width="1" height="26" fill="#c0c0c0"/>
<rect x="668" y="683" width="1" height="25" fill="#c0c0c0"/>
<rect x="676" y="683" width="1" height="23" fill="#c0c0c0"/>
<rect x="684" y="683" width="1" height="21" fill="#c0c0c0"/>
<rect x="692" y="683" width="1" height="19" fill="#c0c0c0"/>
<rect x="700" y="683" width="1" height="17" fill="#c0c0c0"/>
<rect x="708" y="683" width="1" height="14" fill="#c0c0c0"/>
<rect x="716" y="683" width="1" height="12" fill="#c0c0c0"/>
<rect x="724" y="683" width="1" height="11" fill="#c0c0c0"/>
<rect x="732" y="683" width="1" height="10" fill="#c0c0c0"/>
<rect x="740" y="683" width="1" height="8" fill="#c0c0c0"/>
<rect x="748" y="683" width="1" height="6" fill="#c0c0c0"/>
<rect x="756" y="683" width="1" height="5" fill="#c0c0c0"/>
<rect x="764" y="683" width="1" height="5" fill="#c0c0c0"/>
<rect x="772" y="683" width="1" height="6" fill="#c0c0c0"/>
<rect x="780" y="683" width="1" height="14" fill="#c0c0c0"/>
<rect x="788" y="683" width="1" height="20" fill="#c0c0c0"/>
<rect x="796" y="683" width="1" height="26" fill="#c0c0c0"/>
<rect x="804" y="683" width="1" height="34" fill="#c0c0c0"/>
<rect x="812" y="683" width="1" height="40" fill="#c0c0c0"/>
<rect x="820" y="683" width="1" height="51" fill="#c0c0c0"/>
<rect x="828" y="683" width="1" height="54" fill="#c0c0c0"/>
<rect x="836" y="683" width="1" height="57" fill="#c0c0c0"/>
<rect x="844" y="683" width="1" height="58" fill="#c0c0c0"/>
<rect x="852" y="683" width="1" height="56" fill="#c0c0c0"/>
<rect x="860" y="683" width="1" height="55" fill="#c0c0c0"/>
<rect x="868" y="683" width="1" height="55" fill="#c0c0c0"/>
<rect x="876" y="683" width="1" height="52" fill="#c0c0c0"/>
<rect x="884" y="683" width="1" height="56" fill="#c0c0c0"/>
<rect x="892" y="683" width="1" height="56" fill="#c0c0c0"/>
<rect x="900" y="683" width="1" height="59" fill="#c0c0c0"/>
<rect x="908" y="683" width="1" height="61" fill="#c0c0c0"/>
<rect x="916" y="683" width="1" height="60" fill="#c0c0c0"/>
<rect x="924" y="683" width="1" height="64" fill="#c0c0c0"/>
<rect x="932" y="683" width="1" height="66" fill="#c0c0c0"/>
<rect x="940" y="683" width="1" height="72" fill="#c0c0c0"/>
<rect x="948" y="683" width="1" height="74" fill="#c0c0c0"/>
<rect x="956" y="683" width="1" height="77" fill="#c0c0c0"/>
<rect x="964" y="683" width="1" height="75" fill="#c0c0c0"/>
<rect x="972" y="683" width="1" height="70" fill="#c0c0c0"/>
<rect x="980" y="683" width="1" height="66" fill="#c0c0c0"/>
<rect x="988" y="683" width="1" height="60" fill="#c0c0c0"/>
<rect x="996" y="683" width="1" height="54" fill="#c0c0c0"/>
<rect x="1004" y="683" width="1" height="47" fill="#c0c0c0"/>
<rect x="1012" y="683" width="1" height="39" fill="#c0c0c0"/>
<rect x="1020" y="683" width="1" height="25" fill="#c0c0c0"/>
<rect x="1028" y="683" width="1" height="12" fill="#c0c0c0"/>
<rect x="1036" y="681" width="1" height="3" fill="#c0c0c0"/>
<rect x="1044" y="671" width="1" height="13" fill="#c0c0c0"/>
<rect x="1052" y="662" width="1" height="22" fill="#c0c0c0"/>
<rect x="1060" y="654" width="1" height="30" fill="#c0c0c0"/>
<rect x="1068" y="648" width="1" height="36" fill="#c0c0c0"/>
<rect x="1076" y="641" width="1" height="43" fill="#c0c0c0"/>
<rect x="1084" y="638" width="1" height="46" fill="#c0c0c0"/>
<rect x="1092" y="634" width="1" height="50" fill="#c0c0c0"/>
<rect x="1100" y="630" width="1" height="54" fill="#c0c0c0"/>
<rect x="1108" y="628" width="1" height="56" fill="#c0c0c0"/>
<rect x="1116" y="627" width="1" height="57" fill="#c0c0c0"/>
<rect x="1124" y="623" width="1" height="61" fill="#c0c0c0"/>
<rect x="1132" y="621" width="1" height="63" fill="#c0c0c0"/>
<rect x="1140" y="618" width="1" height="66" fill="#c0c0c0"/>
<rect x="1148" y="617" width="1" height="67" fill="#c0c0c0"/>
<rect x="1156" y="615" width="1" height="69" fill="#c0c0c0"/>
<rect x="1164" y="609" width="1" height="75" fill="#c0c0c0"/>
<rect x="1172" y="606" width="1" height="78" fill="#c0c0c0"/>
<rect x="1180" y="604" width="1" height="80" fill="#c0c0c0"/>
<rect x="1188" y="600" width="1" height="84" fill="#c0c0c0"/>
<rect x="1196" y="599" width="1" height="85" fill="#c0c0c0"/>
<rect x="1204" y="598" width="1" height="86" fill="#c0c0c0"/>
<rect x="1212" y="597" width="1" height="87" fill="#c0c0c0"/>
<rect x="1220" y="595" width="1" height="89" fill="#c0c0c0"/>
<rect x="1228" y="599" width="1" height="85" fill="#c0c0c0"/>
<rect x="1236" y="603" width="1" height="81" fill="#c0c0c0"/>
<rect x="1244" y="605" width="1" height="79" fill="#c0c0c0"/>
<rect x="1252" y="607" width="1" height="77" fill="#c0c0c0"/>
<rect x="1260" y="608" width="1" height="76" fill="#c0c0c0"/>
<rect x="1268" y="613" width="1" height="71" fill="#c0c0c0"/>
<rect x="1276" y="619" width="1" height="65" fill="#c0c0c0"/>
<rect x="1284" y="624" width="1" height="60" fill="#c0c0c0"/>
<rect x="1292" y="629" width="1" height="55" fill="#c0c0c0"/>
<rect x="1300" y="635" width="1" height="49" fill="#c0c0c0"/>
<rect x="1308" y="641" width="1" height="43" fill="#c0c0c0"/>
<rect x="1316" y="647" width="1" height="37" fill="#c0c0c0"/>
<rect x="1324" y="650" width="1" height="34" fill="#c0c0c0"/>
<rect x="1332" y="652" width="1" height="32" fill="#c0c0c0"/>
<rect x="1340" y="656" width="1" height="28" fill="#c0c0c0"/>
<rect x="1348" y="657" width="1" height="27" fill="#c0c0c0"/>
<rect x="1356" y="657" width="1" height="27" fill="#c0c0c0"/>
<rect x="1364" y="658" width="1" height="26" fill="#c0c0c0"/>
<rect x="1372" y="658" width="1" height="26" fill="#c0c0c0"/>
<rect x="1380" y="658" width="1" height="26" fill="#c0c0c0"/>
<rect x="1388" y="657" width="1" height="27" fill="#c0c0c0"/>
<rect x="1396" y="659" width="1" height="25" fill="#c0c0c0"/>
<rect x="1404" y="660" width="1" height="24" fill="#c0c0c0"/>
<rect x="1412" y="662" width="1" height="22" fill="#c0c0c0"/>
<rect x="1420" y="663" width="1" height="21" fill="#c0c0c0"/>
<rect x="1428" y="663" width="1" height="21" fill="#c0c0c0"/>
</g>
<path d="M0.0,713.8 L4.0,713.8 L12.0,714.4 L20.0,714.4 L28.0,714.2 L36.0,713.8 L44.0,713.7 L52.0,713.8 L60.0,715.0 L68.0,716.0 L76.0,718.3 L84.0,720.9 L92.0,723.3 L100.0,725.1 L108.0,726.5 L116.0,727.5 L124.0,729.0 L132.0,730.5 L140.0,731.1 L148.0,731.9 L156.0,732.5 L164.0,733.3 L172.0,734.6 L180.0,734.6 L188.0,733.5 L196.0,731.7 L204.0,730.0 L212.0,729.0 L220.0,728.1 L228.0,728.2 L236.0,729.2 L244.0,730.4 L252.0,732.6 L260.0,735.8 L268.0,738.7 L276.0,740.5 L284.0,741.7 L292.0,742.0 L300.0,740.7 L308.0,738.4 L316.0,735.1 L324.0,731.1 L332.0,726.5 L340.0,721.8 L348.0,717.8 L356.0,713.9 L364.0,710.0 L372.0,705.5 L380.0,700.7 L388.0,695.3 L396.0,690.5 L404.0,686.1 L412.0,682.5 L420.0,678.7 L428.0,675.3 L436.0,672.7 L444.0,671.0 L452.0,669.8 L460.0,669.2 L468.0,669.3 L476.0,670.0 L484.0,670.8 L492.0,672.0 L500.0,673.0 L508.0,674.0 L516.0,675.1 L524.0,676.2 L532.0,677.1 L540.0,677.1 L548.0,676.6 L556.0,675.8 L564.0,675.2 L572.0,674.7 L580.0,674.5 L588.0,674.6 L596.0,675.2 L604.0,676.6 L612.0,678.9 L620.0,682.4 L628.0,686.3 L636.0,690.3 L644.0,694.3 L652.0,697.9 L660.0,701.2 L668.0,704.0 L676.0,706.0 L684.0,707.2 L692.0,707.0 L700.0,706.1 L708.0,704.5 L716.0,702.8 L724.0,701.0 L732.0,699.3 L740.0,697.4 L748.0,695.4 L756.0,693.7 L764.0,692.2 L772.0,690.9 L780.0,691.0 L788.0,691.8 L796.0,693.5 L804.0,696.1 L812.0,699.6 L820.0,704.7 L828.0,710.1 L836.0,715.9 L844.0,721.7 L852.0,726.3 L860.0,730.3 L868.0,733.4 L876.0,735.5 L884.0,737.2 L892.0,737.8 L900.0,738.3 L908.0,738.7 L916.0,739.0 L924.0,739.9 L932.0,741.0 L940.0,742.9 L948.0,745.4 L956.0,747.8 L964.0,749.9 L972.0,751.2 L980.0,751.8 L988.0,751.7 L996.0,750.6 L1004.0,748.5 L1012.0,744.8 L1020.0,739.4 L1028.0,732.1 L1036.0,723.6 L1044.0,714.6 L1052.0,705.1 L1060.0,695.3 L1068.0,685.5 L1076.0,675.8 L1084.0,666.6 L1092.0,658.5 L1100.0,651.5 L1108.0,645.6 L1116.0,640.8 L1124.0,636.5 L1132.0,632.8 L1140.0,629.6 L1148.0,626.8 L1156.0,624.3 L1164.0,621.5 L1172.0,618.8 L1180.0,616.1 L1188.0,613.0 L1196.0,610.3 L1204.0,607.7 L1212.0,605.4 L1220.0,603.0 L1228.0,601.2 L1236.0,600.5 L1244.0,600.5 L1252.0,600.9 L1260.0,601.8 L1268.0,603.4 L1276.0,605.7 L1284.0,608.8 L1292.0,612.5 L1300.0,616.6 L1308.0,620.8 L1316.0,625.3 L1324.0,630.1 L1332.0,635.0 L1340.0,639.7 L1348.0,644.0 L1356.0,647.6 L1364.0,650.9 L1372.0,653.4 L1380.0,655.2 L1388.0,656.4 L1396.0,657.4 L1404.0,658.4 L1412.0,659.0 L1420.0,659.7 L1428.0,660.3" fill="none" stroke="#ff0000" stroke-width="1" stroke-dasharray="3,3" shape-rendering="crispEdges"/>
<g clip-path="url(#crsi)">
<path d="M3,803.5 H1624" stroke="#c0c0c0" stroke-width="1" stroke-dasharray="3,3"/>
<path d="M3,850.5 H1624" stroke="#c0c0c0" stroke-width="1" stroke-dasharray="3,3"/>
<path d="M3,906.5 H1624" stroke="#c0c0c0" stroke-width="1" stroke-dasharray="3,3"/>
<path d="M0.0,855.4 L4.0,856.5 L12.0,852.1 L20.0,856.6 L28.0,869.6 L36.0,871.9 L44.0,872.3 L52.0,866.3 L60.0,864.1 L68.0,872.8 L76.0,863.3 L84.0,865.5 L92.0,863.0 L100.0,868.4 L108.0,872.0 L116.0,869.6 L124.0,881.3 L132.0,863.3 L140.0,861.1 L148.0,867.2 L156.0,863.6 L164.0,866.9 L172.0,875.8 L180.0,849.5 L188.0,848.6 L196.0,860.2 L204.0,860.1 L212.0,864.4 L220.0,864.5 L228.0,874.8 L236.0,876.2 L244.0,878.8 L252.0,868.8 L260.0,869.0 L268.0,864.4 L276.0,852.9 L284.0,858.5 L292.0,854.5 L300.0,853.5 L308.0,857.7 L316.0,861.0 L324.0,849.4 L332.0,850.2 L340.0,849.8 L348.0,852.4 L356.0,852.2 L364.0,842.3 L372.0,832.6 L380.0,837.8 L388.0,835.9 L396.0,843.6 L404.0,842.9 L412.0,851.8 L420.0,838.9 L428.0,848.0 L436.0,846.6 L444.0,841.7 L452.0,842.4 L460.0,843.7 L468.0,856.3 L476.0,854.6 L484.0,855.4 L492.0,849.7 L500.0,845.9 L508.0,849.3 L516.0,845.3 L524.0,845.6 L532.0,840.4 L540.0,839.3 L548.0,839.4 L556.0,847.3 L564.0,850.6 L572.0,847.5 L580.0,851.9 L588.0,854.6 L596.0,859.7 L604.0,866.1 L612.0,872.1 L620.0,884.1 L628.0,869.6 L636.0,869.6 L644.0,864.2 L652.0,859.0 L660.0,859.0 L668.0,862.1 L676.0,856.9 L684.0,853.5 L692.0,853.2 L700.0,854.3 L708.0,847.3 L716.0,853.1 L724.0,852.2 L732.0,850.7 L740.0,849.1 L748.0,843.9 L756.0,851.4 L764.0,851.5 L772.0,856.6 L780.0,881.9 L788.0,880.0 L796.0,884.7 L804.0,889.7 L812.0,890.8 L820.0,900.6 L828.0,880.1 L836.0,880.7 L844.0,878.9 L852.0,871.8 L860.0,874.8 L868.0,875.8 L876.0,869.9 L884.0,882.5 L892.0,875.6 L900.0,880.9 L908.0,882.0 L916.0,877.8 L924.0,885.0 L932.0,885.7 L940.0,892.7 L948.0,888.7 L956.0,890.8 L964.0,875.9 L972.0,868.6 L980.0,869.2 L988.0,861.8 L996.0,860.6 L1004.0,854.1 L1012.0,848.2 L1020.0,831.3 L1028.0,826.4 L1036.0,822.3 L1044.0,823.4 L1052.0,821.9 L1060.0,818.3 L1068.0,819.2 L1076.0,815.7 L1084.0,820.3 L1092.0,817.6 L1100.0,814.4 L1108.0,813.7 L1116.0,821.2 L1124.0,812.8 L1132.0,812.8 L1140.0,810.4 L1148.0,809.5 L1156.0,808.5 L1164.0,800.6 L1172.0,801.4 L1180.0,800.9 L1188.0,797.2 L1196.0,804.4 L1204.0,803.2 L1212.0,801.2 L1220.0,798.7 L1228.0,819.8 L1236.0,820.0 L1244.0,816.0 L1252.0,814.7 L1260.0,812.1 L1268.0,828.7 L1276.0,832.3 L1284.0,833.7 L1292.0,834.0 L1300.0,840.4 L1308.0,842.8 L1316.0,844.4 L1324.0,839.1 L1332.0,835.7 L1340.0,847.1 L1348.0,837.6 L1356.0,833.8 L1364.0,838.3 L1372.0,832.4 L1380.0,835.5 L1388.0,830.3 L1396.0,839.6 L1404.0,840.5 L1412.0,840.7 L1420.0,838.2 L1428.0,835.6" fill="none" stroke="#1e90ff" stroke-width="1" shape-rendering="crispEdges"/>
</g>
<g shape-rendering="crispEdges" fill="#000">
<rect x="0" y="30" width="1625" height="1"/>
<rect x="0" y="583" width="1625" height="1"/>
<rect x="1624" y="30" width="1" height="554"/>
<rect x="0" y="585" width="1625" height="1"/>
<rect x="0" y="768" width="1625" height="1"/>
<rect x="1624" y="585" width="1" height="184"/>
<rect x="0" y="770" width="1625" height="1"/>
<rect x="0" y="930" width="1625" height="1"/>
<rect x="1624" y="770" width="1" height="161"/>
</g>
<rect x="1670" y="28" width="1" height="919" fill="#e6e6e6"/>
<g font-size="9.6" fill="#000">
<rect x="1625" y="52" width="2" height="1" fill="#000"/>
<text x="1630" y="56" textLength="33" lengthAdjust="spacingAndGlyphs">26445.0</text>
<rect x="1625" y="85" width="2" height="1" fill="#000"/>
<text x="1630" y="89" textLength="33" lengthAdjust="spacingAndGlyphs">26329.5</text>
<rect x="1625" y="118" width="2" height="1" fill="#000"/>
<text x="1630" y="122" textLength="33" lengthAdjust="spacingAndGlyphs">26210.5</text>
<rect x="1625" y="151" width="2" height="1" fill="#000"/>
<text x="1630" y="155" textLength="33" lengthAdjust="spacingAndGlyphs">26095.0</text>
<rect x="1625" y="184" width="2" height="1" fill="#000"/>
<text x="1630" y="188" textLength="33" lengthAdjust="spacingAndGlyphs">25976.0</text>
<rect x="1625" y="217" width="2" height="1" fill="#000"/>
<text x="1630" y="221" textLength="33" lengthAdjust="spacingAndGlyphs">25860.5</text>
<rect x="1625" y="250" width="2" height="1" fill="#000"/>
<text x="1630" y="254" textLength="33" lengthAdjust="spacingAndGlyphs">25741.5</text>
<rect x="1625" y="283" width="2" height="1" fill="#000"/>
<text x="1630" y="287" textLength="33" lengthAdjust="spacingAndGlyphs">25626.0</text>
<rect x="1625" y="316" width="2" height="1" fill="#000"/>
<text x="1630" y="320" textLength="33" lengthAdjust="spacingAndGlyphs">25507.0</text>
<rect x="1625" y="349" width="2" height="1" fill="#000"/>
<text x="1630" y="353" textLength="33" lengthAdjust="spacingAndGlyphs">25391.5</text>
<rect x="1625" y="382" width="2" height="1" fill="#000"/>
<text x="1630" y="386" textLength="33" lengthAdjust="spacingAndGlyphs">25272.5</text>
<rect x="1625" y="415" width="2" height="1" fill="#000"/>
<text x="1630" y="419" textLength="33" lengthAdjust="spacingAndGlyphs">25157.0</text>
<rect x="1625" y="448" width="2" height="1" fill="#000"/>
<text x="1630" y="452" textLength="33" lengthAdjust="spacingAndGlyphs">25038.0</text>
<rect x="1625" y="481" width="2" height="1" fill="#000"/>
<text x="1630" y="485" textLength="33" lengthAdjust="spacingAndGlyphs">24922.5</text>
<rect x="1625" y="514" width="2" height="1" fill="#000"/>
<text x="1630" y="518" textLength="33" lengthAdjust="spacingAndGlyphs">24807.0</text>
<rect x="1625" y="547" width="2" height="1" fill="#000"/>
<text x="1630" y="551" textLength="33" lengthAdjust="spacingAndGlyphs">24688.0</text>
<rect x="1625" y="580" width="2" height="1" fill="#000"/>
<text x="1630" y="584" textLength="33" lengthAdjust="spacingAndGlyphs">24572.5</text>
</g>
<rect x="1626" y="73" width="41" height="11" fill="#ff0000"/>
<text x="1630" y="82.2" font-size="9.6" fill="#fff" textLength="33" lengthAdjust="spacingAndGlyphs">26348.8</text>
<rect x="1626" y="103" width="41" height="11" fill="#ff0000"/>
<text x="1630" y="112.2" font-size="9.6" fill="#fff" textLength="33" lengthAdjust="spacingAndGlyphs">26242.5</text>
<rect x="1626" y="120" width="41" height="11" fill="#32cd32"/>
<text x="1630" y="129.2" font-size="9.6" fill="#fff" textLength="33" lengthAdjust="spacingAndGlyphs">26182.2</text>
<rect x="1626" y="138" width="41" height="11" fill="#000000"/>
<text x="1630" y="146.2" font-size="9.6" fill="#fff" textLength="33" lengthAdjust="spacingAndGlyphs">26122.0</text>
<rect x="1626" y="160" width="41" height="11" fill="#0000ff"/>
<text x="1630" y="169.2" font-size="9.6" fill="#fff" textLength="33" lengthAdjust="spacingAndGlyphs">26040.4</text>
<rect x="1626" y="180" width="41" height="11" fill="#0000ff"/>
<text x="1630" y="189.2" font-size="9.6" fill="#fff" textLength="33" lengthAdjust="spacingAndGlyphs">25969.5</text>
<g font-size="9.6" fill="#000">
<rect x="1625" y="587" width="1" height="1"/>
<text x="1628" y="596" textLength="23" lengthAdjust="spacingAndGlyphs">251.7</text>
<rect x="1625" y="683" width="2" height="1"/>
<text x="1628" y="687" textLength="18" lengthAdjust="spacingAndGlyphs">0.00</text>
<rect x="1625" y="767" width="1" height="1"/>
<text x="1628" y="765" textLength="31" lengthAdjust="spacingAndGlyphs">-218.56</text>
<rect x="1625" y="772" width="1" height="1"/>
<text x="1628" y="781" textLength="15" lengthAdjust="spacingAndGlyphs">100</text>
<text x="1628" y="807" textLength="10" lengthAdjust="spacingAndGlyphs">80</text>
<text x="1628" y="854" textLength="10" lengthAdjust="spacingAndGlyphs">50</text>
<text x="1628" y="910" textLength="10" lengthAdjust="spacingAndGlyphs">15</text>
<text x="1628" y="927" textLength="5" lengthAdjust="spacingAndGlyphs">0</text>
</g>
<text x="1" y="598" font-size="9.6" fill="#000" textLength="117" lengthAdjust="spacingAndGlyphs">MACD(12,26,9) 53.80 62.43</text>
<text x="1" y="783" font-size="9.6" fill="#000" textLength="67" lengthAdjust="spacingAndGlyphs">RSI(14) 59.4734</text>
<path d="M0,41 L3,37 L6,41 Z" fill="#000"/>
<g font-size="9.6" fill="#000"><text x="11.5" y="42" textLength="38" lengthAdjust="spacingAndGlyphs">DJ30-,H4</text><text x="56.5" y="42" textLength="32.5" lengthAdjust="spacingAndGlyphs">26106.0</text><text x="92" y="42" textLength="32.5" lengthAdjust="spacingAndGlyphs">26132.0</text><text x="128" y="42" textLength="32.5" lengthAdjust="spacingAndGlyphs">26106.0</text><text x="164" y="42" textLength="32.5" lengthAdjust="spacingAndGlyphs">26122.0</text></g>
<g font-size="9.6" fill="#000">
<text x="3.5" y="943" textLength="41" lengthAdjust="spacingAndGlyphs">May 2019</text>
<rect x="60" y="931" width="1" height="3" fill="#000"/>
<text x="59" y="943" textLength="53" lengthAdjust="spacingAndGlyphs">8 May 04:00</text>
<rect x="124" y="931" width="1" height="3" fill="#000"/>
<text x="123" y="943" textLength="53" lengthAdjust="spacingAndGlyphs">9 May 12:00</text>
<rect x="188" y="931" width="1" height="3" fill="#000"/>
<text x="187" y="943" textLength="58" lengthAdjust="spacingAndGlyphs">10 May 20:00</text>
<rect x="252" y="931" width="1" height="3" fill="#000"/>
<text x="251" y="943" textLength="58" lengthAdjust="spacingAndGlyphs">14 May 00:00</text>
<rect x="316" y="931" width="1" height="3" fill="#000"/>
<text x="315" y="943" textLength="58" lengthAdjust="spacingAndGlyphs">15 May 08:00</text>
<rect x="380" y="931" width="1" height="3" fill="#000"/>
<text x="379" y="943" textLength="58" lengthAdjust="spacingAndGlyphs">16 May 16:00</text>
<rect x="444" y="931" width="1" height="3" fill="#000"/>
<text x="443" y="943" textLength="58" lengthAdjust="spacingAndGlyphs">19 May 23:00</text>
<rect x="508" y="931" width="1" height="3" fill="#000"/>
<text x="507" y="943" textLength="58" lengthAdjust="spacingAndGlyphs">21 May 04:00</text>
<rect x="572" y="931" width="1" height="3" fill="#000"/>
<text x="571" y="943" textLength="58" lengthAdjust="spacingAndGlyphs">22 May 12:00</text>
<rect x="636" y="931" width="1" height="3" fill="#000"/>
<text x="635" y="943" textLength="58" lengthAdjust="spacingAndGlyphs">23 May 20:00</text>
<rect x="700" y="931" width="1" height="3" fill="#000"/>
<text x="699" y="943" textLength="58" lengthAdjust="spacingAndGlyphs">27 May 00:00</text>
<rect x="764" y="931" width="1" height="3" fill="#000"/>
<text x="763" y="943" textLength="58" lengthAdjust="spacingAndGlyphs">28 May 08:00</text>
<rect x="828" y="931" width="1" height="3" fill="#000"/>
<text x="827" y="943" textLength="58" lengthAdjust="spacingAndGlyphs">29 May 16:00</text>
<rect x="892" y="931" width="1" height="3" fill="#000"/>
<text x="891" y="943" textLength="58" lengthAdjust="spacingAndGlyphs">31 May 00:00</text>
<rect x="956" y="931" width="1" height="3" fill="#000"/>
<text x="955" y="943" textLength="48.5" lengthAdjust="spacingAndGlyphs">3 Jun 04:00</text>
<rect x="1020" y="931" width="1" height="3" fill="#000"/>
<text x="1019" y="943" textLength="48.5" lengthAdjust="spacingAndGlyphs">4 Jun 12:00</text>
<rect x="1084" y="931" width="1" height="3" fill="#000"/>
<text x="1083" y="943" textLength="48.5" lengthAdjust="spacingAndGlyphs">5 Jun 20:00</text>
<rect x="1148" y="931" width="1" height="3" fill="#000"/>
<text x="1147" y="943" textLength="48.5" lengthAdjust="spacingAndGlyphs">7 Jun 04:00</text>
<rect x="1212" y="931" width="1" height="3" fill="#000"/>
<text x="1211" y="943" textLength="52.3" lengthAdjust="spacingAndGlyphs">10 Jun 08:00</text>
<rect x="1276" y="931" width="1" height="3" fill="#000"/>
<text x="1275" y="943" textLength="52.3" lengthAdjust="spacingAndGlyphs">11 Jun 16:00</text>
<rect x="1340" y="931" width="1" height="3" fill="#000"/>
<text x="1339" y="943" textLength="52.3" lengthAdjust="spacingAndGlyphs">13 Jun 00:00</text>
<rect x="1404" y="931" width="1" height="3" fill="#000"/>
<text x="1403" y="943" textLength="52.3" lengthAdjust="spacingAndGlyphs">14 Jun 08:00</text>
</g>
<defs><linearGradient id="rh" x1="0" y1="0" x2="0" y2="1"><stop offset="0" stop-color="#f85858"/><stop offset="1" stop-color="#e03030"/></linearGradient><linearGradient id="rl" x1="0" y1="0" x2="0" y2="1"><stop offset="0" stop-color="#dc2d2d"/><stop offset="1" stop-color="#a90000"/></linearGradient><linearGradient id="btn" x1="0" y1="0" x2="0" y2="1"><stop offset="0" stop-color="#f2f2f2"/><stop offset="1" stop-color="#dcdcdc"/></linearGradient><linearGradient id="tb" x1="0" y1="0" x2="0" y2="1"><stop offset="0" stop-color="#9a9a9a"/><stop offset="1" stop-color="#5e5e5e"/></linearGradient></defs>
<rect x="0" y="50" width="51" height="24" fill="url(#rh)"/>
<rect x="166" y="50" width="52" height="24" fill="url(#rh)"/>
<rect x="0" y="74" width="108" height="40" fill="url(#rl)"/>
<rect x="110" y="74" width="108" height="40" fill="url(#rl)"/>
<rect x="51" y="48" width="115" height="26" fill="#fff"/>
<rect x="0" y="50" width="51" height="1" fill="#b80000"/><rect x="50" y="50" width="1" height="24" fill="#b80000"/>
<rect x="166" y="50" width="52" height="1" fill="#b80000"/><rect x="166" y="50" width="1" height="24" fill="#b80000"/>
<rect x="3" y="73" width="44" height="1" fill="#8a0000"/><rect x="3" y="74" width="44" height="1" fill="#f07070"/>
<rect x="170" y="73" width="44" height="1" fill="#8a0000"/><rect x="170" y="74" width="44" height="1" fill="#f07070"/>
<text x="11" y="66" font-size="12.5" fill="#fff" textLength="26" lengthAdjust="spacingAndGlyphs">SELL</text>
<text x="179" y="66" font-size="12.5" fill="#fff" textLength="24" lengthAdjust="spacingAndGlyphs">BUY</text>
<rect x="53.5" y="50.5" width="110" height="21" fill="#fff" stroke="#a8a8a8"/>
<rect x="54" y="51" width="20" height="20" fill="url(#btn)"/>
<rect x="74" y="51" width="1" height="20" fill="#b0b0b0"/>
<rect x="143" y="51" width="20" height="20" fill="url(#btn)"/>
<rect x="142" y="51" width="1" height="20" fill="#b0b0b0"/>
<path d="M60.5,59 H66.5 L63.5,62 Z" fill="#000"/>
<path d="M149,63 H155 L152,60 Z" fill="#000"/>
<text x="139" y="66" font-size="12" fill="#000" text-anchor="end">1.00</text>
<text x="15.5" y="105" font-size="12" font-weight="bold" fill="#fff" textLength="35" lengthAdjust="spacingAndGlyphs">26120</text>
<circle cx="56.6" cy="102.8" r="2.1" fill="#fff"/>
<text x="61" y="105" font-size="32" fill="#fff" textLength="16" lengthAdjust="spacingAndGlyphs">5</text>
<text x="125" y="105" font-size="12" font-weight="bold" fill="#fff" textLength="35" lengthAdjust="spacingAndGlyphs">26128</text>
<circle cx="167" cy="102.8" r="2.1" fill="#fff"/>
<text x="171.5" y="105" font-size="32" fill="#fff" textLength="16" lengthAdjust="spacingAndGlyphs">5</text>
<rect x="0" y="0" width="1671" height="26" fill="#efefef"/><rect x="0" y="0" width="1671" height="1" fill="#fcfcfc"/>
<rect x="0" y="26" width="1671" height="2" fill="url(#tb)"/>
<path d="M-1.5,6.5 H4.5 L6.5,8.5 V17.5 H-1.5 Z" fill="#fff" stroke="#909090" stroke-width="1"/>
<rect x="0" y="11" width="4" height="1" fill="#a0a0a0"/>
<path d="M0.5,16 H3 V13 H6.5 V16 H10 V19.5 H6.5 V23.5 H3 V19.5 H0.5 Z" fill="#22d022" stroke="#0a7a0a" stroke-width="1"/>
<text x="14" y="17" font-size="12" font-weight="500" fill="#000" textLength="36" lengthAdjust="spacingAndGlyphs">新订单</text>
<linearGradient id="gb" x1="0" y1="0" x2="1" y2="1"><stop offset="0" stop-color="#f8e060"/><stop offset="1" stop-color="#c08a10"/></linearGradient>
<path d="M62.5,16 L68,7.5 L77.5,14 L70,21.5 Z" fill="url(#gb)" stroke="#9a6a10" stroke-width="1"/>
<path d="M64,17.5 L70,22 L77,15.5" fill="none" stroke="#b08030" stroke-width="1"/>
<rect x="93.5" y="6.5" width="9" height="11" fill="#5aa0e8" stroke="#2a60b0"/>
<rect x="96" y="9" width="5" height="1" fill="#fff"/><rect x="96" y="12" width="5" height="1" fill="#fff"/>
<path d="M91,21 C89,21 89,17 92,17 C92,14 97,14 98,16 C100,14 105,15 104,18 C106,18 106,21 104,21 Z" fill="#f4f8ff" stroke="#7a90b0" stroke-width="1"/>
<circle cx="126" cy="14" r="7" fill="none" stroke="#9ab8e8" stroke-width="1.2"/>
<circle cx="126" cy="14" r="4.5" fill="none" stroke="#5a88d8" stroke-width="1.2"/>
<circle cx="126" cy="14" r="1.8" fill="#2a60c0"/>
<path d="M127,15 L127,22 M127,22 A8,8 0 0 0 133,17" fill="none" stroke="#3aa040" stroke-width="1.5"/>
<path d="M147,13 L159,13 L156,21 L150,21 Z" fill="#f0d040" stroke="#a08020" stroke-width="1"/>
<ellipse cx="153" cy="11" rx="8" ry="3" fill="#5aa0d8" stroke="#2a6090" stroke-width="1"/>
<ellipse cx="153" cy="9" rx="4" ry="3" fill="#6ab0e8" stroke="#2a6090" stroke-width="1"/>
<circle cx="158" cy="18" r="4" fill="#e02020" stroke="#901010" stroke-width="0.8"/>
<rect x="156.5" y="16.5" width="3" height="3" fill="#fff"/>
<text x="166" y="17" font-size="12" font-weight="500" fill="#000" textLength="47" lengthAdjust="spacingAndGlyphs">自动交易</text>
<rect x="221" y="1" width="1" height="25" fill="#9a9a9a"/><rect x="222" y="1" width="1" height="25" fill="#fcfcfc"/>
<rect x="225" y="4" width="3" height="1" fill="#b4b4b4"/>
<rect x="225" y="6" width="3" height="1" fill="#b4b4b4"/>
<rect x="225" y="8" width="3" height="1" fill="#b4b4b4"/>
<rect x="225" y="10" width="3" height="1" fill="#b4b4b4"/>
<rect x="225" y="12" width="3" height="1" fill="#b4b4b4"/>
<rect x="225" y="14" width="3" height="1" fill="#b4b4b4"/>
<rect x="225" y="16" width="3" height="1" fill="#b4b4b4"/>
<rect x="225" y="18" width="3" height="1" fill="#b4b4b4"/>
<rect x="225" y="20" width="3" height="1" fill="#b4b4b4"/>
<rect x="225" y="22" width="3" height="1" fill="#b4b4b4"/>
<path d="M239.5,9 V22 M237,19.5 H250" stroke="#555" stroke-width="1" fill="none"/>
<path d="M237.5,10 L239.5,8 L241.5,10 Z M249,17.5 L251,19.5 L249,21.5 Z" fill="#555"/>
<path d="M243,16.5 H245.5 V9.5 M245.5,10.5 H248" stroke="#108a10" stroke-width="1.2" fill="none"/>
<rect x="259" y="2" width="25" height="22" fill="#f8f8f8"/>
<path d="M259.5,24 V2.5 H284" fill="none" stroke="#8a8a8a" stroke-width="1"/>
<path d="M267.5,9 V22 M265,19.5 H278" stroke="#555" stroke-width="1" fill="none"/>
<path d="M265.5,10 L267.5,8 L269.5,10 Z M277,17.5 L279,19.5 L277,21.5 Z" fill="#555"/>
<path d="M273.5,6 V17.5" stroke="#108a20" stroke-width="1"/><rect x="271.5" y="8.5" width="4" height="7.5" fill="#40e060" stroke="#108a20" stroke-width="1"/>
<path d="M295.5,9 V22 M293,19.5 H306" stroke="#555" stroke-width="1" fill="none"/>
<path d="M293.5,10 L295.5,8 L297.5,10 Z M305,17.5 L307,19.5 L305,21.5 Z" fill="#555"/>
<path d="M294,16.5 C297,14 299,11 300.5,11 C302,11 303,14 305.5,15" stroke="#2a9a3a" stroke-width="1.1" fill="none"/>
<rect x="316" y="1" width="1" height="25" fill="#a8a8a8"/><rect x="317" y="1" width="1" height="25" fill="#fcfcfc"/>
<path d="M334,15 L340,22" stroke="#c8a020" stroke-width="3" stroke-linecap="round"/>
<circle cx="331" cy="12" r="5.5" fill="#d8ecff" stroke="#3a78d0" stroke-width="1.5"/>
<path d="M328,12 H334" stroke="#2a60b0" stroke-width="2"/>
<path d="M331,9 V15" stroke="#2a60b0" stroke-width="2"/>
<path d="M362,15 L368,22" stroke="#c8a020" stroke-width="3" stroke-linecap="round"/>
<circle cx="359" cy="12" r="5.5" fill="#d8ecff" stroke="#3a78d0" stroke-width="1.5"/>
<path d="M356,12 H362" stroke="#2a60b0" stroke-width="2"/>
<rect x="381" y="6" width="7" height="7" fill="#30a030"/><rect x="389" y="6" width="7" height="7" fill="#2060c0"/><rect x="381" y="14" width="7" height="7" fill="#2060c0"/><rect x="389" y="14" width="7" height="7" fill="#30a030"/>
<rect x="382" y="9" width="5" height="2" fill="#e0f0e0"/><rect x="390" y="9" width="5" height="2" fill="#e0e8ff"/><rect x="382" y="17" width="5" height="2" fill="#e0e8ff"/><rect x="390" y="17" width="5" height="2" fill="#e0f0e0"/>
<rect x="406" y="1" width="1" height="25" fill="#a8a8a8"/><rect x="407" y="1" width="1" height="25" fill="#fcfcfc"/>
<rect x="411" y="2" width="25" height="22" fill="#f8f8f8"/>
<path d="M411.5,24 V2.5 H436" fill="none" stroke="#8a8a8a" stroke-width="1"/>
<path d="M419.5,9 V22 M417,19.5 H430" stroke="#555" stroke-width="1" fill="none"/>
<path d="M417.5,10 L419.5,8 L421.5,10 Z M429,17.5 L431,19.5 L429,21.5 Z" fill="#555"/>
<path d="M425,9 L430,13 L425,17 Z" fill="#30c040" stroke="#108020" stroke-width="0.8"/>
<rect x="439" y="2" width="25" height="22" fill="#f8f8f8"/>
<path d="M439.5,24 V2.5 H464" fill="none" stroke="#8a8a8a" stroke-width="1"/>
<path d="M447.5,9 V22 M445,19.5 H458" stroke="#555" stroke-width="1" fill="none"/>
<path d="M445.5,10 L447.5,8 L449.5,10 Z M457,17.5 L459,19.5 L457,21.5 Z" fill="#555"/>
<path d="M454,8 V19" stroke="#2060c0" stroke-width="1.3"/><path d="M456,13 H461 M456,13 L459,11 M456,13 L459,15" stroke="#e04010" stroke-width="1.5"/>
<rect x="468" y="1" width="1" height="25" fill="#a8a8a8"/><rect x="469" y="1" width="1" height="25" fill="#fcfcfc"/>
<path d="M478.5,6.5 H486 L489,9.5 V19.5 H478.5 Z" fill="#f8f8f8" stroke="#808080"/>
<text x="480" y="16" font-size="9" fill="#606060">f</text>
<path d="M485,16 h3 v-3 h3 v3 h3 v3 h-3 v3 h-3 v-3 h-3 Z" fill="#28d028" stroke="#0a8a0a" stroke-width="0.8"/>
<path d="M499,13 H505 L502,16 Z" fill="#000"/>
<circle cx="524" cy="14" r="7.5" fill="#2a78d8" stroke="#1a4a98" stroke-width="1"/><circle cx="524" cy="14" r="5" fill="#f4f8ff"/><path d="M524,10 V14 H527" stroke="#333" stroke-width="1" fill="none"/>
<path d="M538,13 H544 L541,16 Z" fill="#000"/>
<rect x="555.5" y="7.5" width="16" height="13" fill="#fff" stroke="#2a68c0"/><rect x="556" y="8" width="15" height="2" fill="#4a88d8"/>
<path d="M557,14 L560,13 L563,14 L566,12 L570,12" stroke="#c03020" stroke-width="1" fill="none"/><path d="M557,18 L560,17 L563,18 L566,16 L570,17" stroke="#20a030" stroke-width="1" fill="none"/>
<path d="M577,13 H583 L580,16 Z" fill="#000"/>
<rect x="589" y="1" width="1" height="25" fill="#9a9a9a"/><rect x="590" y="1" width="1" height="25" fill="#fcfcfc"/>
<rect x="593" y="4" width="3" height="1" fill="#b4b4b4"/>
<rect x="593" y="6" width="3" height="1" fill="#b4b4b4"/>
<rect x="593" y="8" width="3" height="1" fill="#b4b4b4"/>
<rect x="593" y="10" width="3" height="1" fill="#b4b4b4"/>
<rect x="593" y="12" width="3" height="1" fill="#b4b4b4"/>
<rect x="593" y="14" width="3" height="1" fill="#b4b4b4"/>
<rect x="593" y="16" width="3" height="1" fill="#b4b4b4"/>
<rect x="593" y="18" width="3" height="1" fill="#b4b4b4"/>
<rect x="593" y="20" width="3" height="1" fill="#b4b4b4"/>
<rect x="593" y="22" width="3" height="1" fill="#b4b4b4"/>
<rect x="599" y="2" width="25" height="22" fill="#f8f8f8"/>
<path d="M599.5,24 V2.5 H624" fill="none" stroke="#8a8a8a" stroke-width="1"/>
<path d="M607,7 L607,19 L610,16 L613,21 L615,20 L612,15 L616,15 Z" fill="#404040"/>
<path d="M632,14.5 H647 M639.5,7 V22" stroke="#505050" stroke-width="1.2"/>
<rect x="656" y="1" width="1" height="25" fill="#a8a8a8"/><rect x="657" y="1" width="1" height="25" fill="#fcfcfc"/>
<path d="M673.5,8 V21" stroke="#505050" stroke-width="1.3"/>
<path d="M696,14.5 H708" stroke="#505050" stroke-width="1.3"/>
<path d="M723,21 L736,9" stroke="#505050" stroke-width="1.2"/>
<path d="M751,17 L763,8 M752,21 L765,11 M754,14 L755,18 M757,12 L758,16 M760,10 L761,14" stroke="#505050" stroke-width="1.1"/>
<text x="760" y="23" font-size="7" font-weight="bold" fill="#404040">E</text>
<path d="M779,7.5 H792" stroke="#606060" stroke-width="1" stroke-dasharray="1,1"/>
<path d="M779,10.5 H792" stroke="#606060" stroke-width="1" stroke-dasharray="1,1"/>
<path d="M779,14.5 H792" stroke="#606060" stroke-width="1" stroke-dasharray="1,1"/>
<path d="M779,18.5 H787" stroke="#606060" stroke-width="1" stroke-dasharray="1,1"/>
<text x="788" y="23" font-size="7" font-weight="bold" fill="#404040">F</text>
<text x="809" y="19" font-size="12" font-weight="bold" fill="#505050">A</text>
<rect x="836.5" y="8.5" width="11" height="12" fill="none" stroke="#606060" stroke-dasharray="1,1" shape-rendering="crispEdges"/><rect x="835" y="7" width="2" height="2" fill="#606060"/>
<text x="838" y="19" font-size="11" font-weight="bold" fill="#404040">T</text>
<path d="M867,8 L870,11 H864 Z M874,20 L877,17 H871 Z" fill="#505050"/><path d="M864.5,12.5 L867,15.5 L871,11" stroke="#404040" stroke-width="1.3" fill="none"/><path d="M866,11 H868 V13 H866 Z M872,15 H876 V17 H872 Z" fill="#505050"/>
<path d="M884,13 H890 L887,16 Z" fill="#000"/>
<rect x="895" y="1" width="1" height="25" fill="#9a9a9a"/><rect x="896" y="1" width="1" height="25" fill="#fcfcfc"/>
<rect x="899" y="4" width="3" height="1" fill="#b4b4b4"/>
<rect x="899" y="6" width="3" height="1" fill="#b4b4b4"/>
<rect x="899" y="8" width="3" height="1" fill="#b4b4b4"/>
<rect x="899" y="10" width="3" height="1" fill="#b4b4b4"/>
<rect x="899" y="12" width="3" height="1" fill="#b4b4b4"/>
<rect x="899" y="14" width="3" height="1" fill="#b4b4b4"/>
<rect x="899" y="16" width="3" height="1" fill="#b4b4b4"/>
<rect x="899" y="18" width="3" height="1" fill="#b4b4b4"/>
<rect x="899" y="20" width="3" height="1" fill="#b4b4b4"/>
<rect x="899" y="22" width="3" height="1" fill="#b4b4b4"/>
<rect x="1045" y="2" width="25" height="22" fill="#f8f8f8"/>
<path d="M1045.5,24 V2.5 H1070" fill="none" stroke="#8a8a8a" stroke-width="1"/>
<text x="910" y="18" font-size="10.5" fill="#3a3a3a" textLength="13" lengthAdjust="spacingAndGlyphs">M1</text>
<text x="938" y="18" font-size="10.5" fill="#3a3a3a" textLength="13" lengthAdjust="spacingAndGlyphs">M5</text>
<text x="965" y="18" font-size="10.5" fill="#3a3a3a" textLength="17.5" lengthAdjust="spacingAndGlyphs">M15</text>
<text x="992" y="18" font-size="10.5" fill="#3a3a3a" textLength="18" lengthAdjust="spacingAndGlyphs">M30</text>
<text x="1023" y="18" font-size="10.5" fill="#3a3a3a" textLength="12" lengthAdjust="spacingAndGlyphs">H1</text>
<text x="1050" y="18" font-size="10.5" fill="#3a3a3a" textLength="13" lengthAdjust="spacingAndGlyphs">H4</text>
<text x="1079" y="18" font-size="10.5" fill="#3a3a3a" textLength="12" lengthAdjust="spacingAndGlyphs">D1</text>
<text x="1106" y="18" font-size="10.5" fill="#3a3a3a" textLength="15.5" lengthAdjust="spacingAndGlyphs">W1</text>
<text x="1133" y="18" font-size="10.5" fill="#3a3a3a" textLength="15.5" lengthAdjust="spacingAndGlyphs">MN</text>
<rect x="1156" y="1" width="1" height="25" fill="#a8a8a8"/><rect x="1157" y="1" width="1" height="25" fill="#fcfcfc"/>
<circle cx="1626.5" cy="11.5" r="4" fill="#fff" stroke="#2a5ad0" stroke-width="1.3"/><path d="M1623.5,14.5 L1619.5,18.5" stroke="#2a5ad0" stroke-width="2.2" stroke-linecap="round"/>
<ellipse cx="1659" cy="11" rx="6.5" ry="4.8" fill="#e8e8f0" stroke="#8a8a8a" stroke-width="1"/><path d="M1660,15.5 L1662,17.5 L1661.5,14.8" fill="#e8e8f0" stroke="#6a6a6a" stroke-width="1"/>
<ellipse cx="1650" cy="15" rx="5.3" ry="3.8" fill="#e8e8f0" stroke="#8a8a8a" stroke-width="1"/><path d="M1647,18 L1647,20.5 L1649.5,18.6" fill="#e8e8f0" stroke="#6a6a6a" stroke-width="1"/>
</svg></body></html>
